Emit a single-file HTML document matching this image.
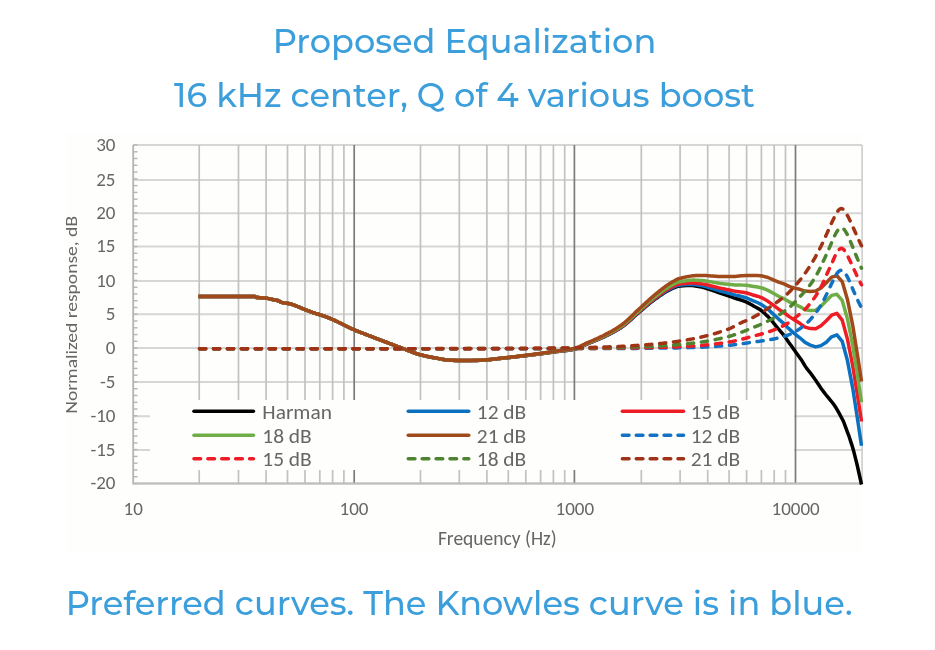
<!DOCTYPE html>
<html><head><meta charset="utf-8"><title>Proposed Equalization</title>
<style>
html,body{margin:0;padding:0;background:#ffffff;}
body{width:935px;height:650px;position:relative;overflow:hidden;}
.h{position:absolute;width:935px;text-align:center;font-family:"Montserrat","DejaVu Sans","Liberation Sans",sans-serif;font-weight:500;font-size:33.6px;color:#3c9fdb;white-space:nowrap;}
.t{font-family:"Carlito","Liberation Sans",sans-serif;font-size:19px;fill:#666666;}
.lg{font-size:20.5px;}
.yl{font-size:19px;}
.xl{font-size:19px;}
.ft{font-size:19.5px;}
.yt{font-size:17px;}
</style></head><body>
<div class="h" style="left:-3px;top:20.0px;">Proposed Equalization</div>
<div class="h" style="left:-3px;top:73.7px;">16 kHz center, Q of 4 various boost</div>
<svg width="935" height="650" viewBox="0 0 935 650" style="position:absolute;left:0;top:0">
<rect x="66" y="133" width="796" height="419" fill="#fefefc"/>
<line x1="133" y1="145.0" x2="862" y2="145.0" stroke="#d6d6d6" stroke-width="2"/>
<line x1="133" y1="180.0" x2="862" y2="180.0" stroke="#d6d6d6" stroke-width="2"/>
<line x1="133" y1="213.3" x2="862" y2="213.3" stroke="#d6d6d6" stroke-width="2"/>
<line x1="133" y1="246.6" x2="862" y2="246.6" stroke="#d6d6d6" stroke-width="2"/>
<line x1="133" y1="281.0" x2="862" y2="281.0" stroke="#d6d6d6" stroke-width="2"/>
<line x1="133" y1="314.2" x2="862" y2="314.2" stroke="#d6d6d6" stroke-width="2"/>
<line x1="133" y1="348.1" x2="862" y2="348.1" stroke="#d6d6d6" stroke-width="2"/>
<line x1="133" y1="381.9" x2="862" y2="381.9" stroke="#d6d6d6" stroke-width="2"/>
<line x1="133" y1="416.2" x2="862" y2="416.2" stroke="#d6d6d6" stroke-width="2"/>
<line x1="133" y1="450.0" x2="862" y2="450.0" stroke="#d6d6d6" stroke-width="2"/>
<line x1="133" y1="483.6" x2="862" y2="483.6" stroke="#d6d6d6" stroke-width="2"/>
<line x1="199.2" y1="145.0" x2="199.2" y2="483.5" stroke="#c2c2c2" stroke-width="1.7"/>
<line x1="238.5" y1="145.0" x2="238.5" y2="483.5" stroke="#c2c2c2" stroke-width="1.7"/>
<line x1="266.1" y1="145.0" x2="266.1" y2="483.5" stroke="#c2c2c2" stroke-width="1.7"/>
<line x1="287.5" y1="145.0" x2="287.5" y2="483.5" stroke="#c2c2c2" stroke-width="1.7"/>
<line x1="305.0" y1="145.0" x2="305.0" y2="483.5" stroke="#c2c2c2" stroke-width="1.7"/>
<line x1="319.8" y1="145.0" x2="319.8" y2="483.5" stroke="#c2c2c2" stroke-width="1.7"/>
<line x1="332.6" y1="145.0" x2="332.6" y2="483.5" stroke="#c2c2c2" stroke-width="1.7"/>
<line x1="343.9" y1="145.0" x2="343.9" y2="483.5" stroke="#c2c2c2" stroke-width="1.7"/>
<line x1="354.2" y1="145.0" x2="354.2" y2="483.5" stroke="#7c7c7c" stroke-width="1.7"/>
<line x1="420.5" y1="145.0" x2="420.5" y2="483.5" stroke="#c2c2c2" stroke-width="1.7"/>
<line x1="459.3" y1="145.0" x2="459.3" y2="483.5" stroke="#c2c2c2" stroke-width="1.7"/>
<line x1="486.9" y1="145.0" x2="486.9" y2="483.5" stroke="#c2c2c2" stroke-width="1.7"/>
<line x1="508.3" y1="145.0" x2="508.3" y2="483.5" stroke="#c2c2c2" stroke-width="1.7"/>
<line x1="525.8" y1="145.0" x2="525.8" y2="483.5" stroke="#c2c2c2" stroke-width="1.7"/>
<line x1="540.6" y1="145.0" x2="540.6" y2="483.5" stroke="#c2c2c2" stroke-width="1.7"/>
<line x1="553.4" y1="145.0" x2="553.4" y2="483.5" stroke="#c2c2c2" stroke-width="1.7"/>
<line x1="564.7" y1="145.0" x2="564.7" y2="483.5" stroke="#c2c2c2" stroke-width="1.7"/>
<line x1="574.4" y1="145.0" x2="574.4" y2="483.5" stroke="#7c7c7c" stroke-width="1.7"/>
<line x1="641.3" y1="145.0" x2="641.3" y2="483.5" stroke="#c2c2c2" stroke-width="1.7"/>
<line x1="680.1" y1="145.0" x2="680.1" y2="483.5" stroke="#c2c2c2" stroke-width="1.7"/>
<line x1="707.7" y1="145.0" x2="707.7" y2="483.5" stroke="#c2c2c2" stroke-width="1.7"/>
<line x1="729.1" y1="145.0" x2="729.1" y2="483.5" stroke="#c2c2c2" stroke-width="1.7"/>
<line x1="746.6" y1="145.0" x2="746.6" y2="483.5" stroke="#c2c2c2" stroke-width="1.7"/>
<line x1="761.4" y1="145.0" x2="761.4" y2="483.5" stroke="#c2c2c2" stroke-width="1.7"/>
<line x1="774.2" y1="145.0" x2="774.2" y2="483.5" stroke="#c2c2c2" stroke-width="1.7"/>
<line x1="785.5" y1="145.0" x2="785.5" y2="483.5" stroke="#c2c2c2" stroke-width="1.7"/>
<line x1="795.5" y1="145.0" x2="795.5" y2="483.5" stroke="#7c7c7c" stroke-width="1.7"/>
<line x1="862.1" y1="145.0" x2="862.1" y2="483.5" stroke="#d0d0d0" stroke-width="1.7"/>
<line x1="133.2" y1="145.0" x2="133.2" y2="483.5" stroke="#b4b4b4" stroke-width="1.8"/>
<line x1="133.2" y1="145.0" x2="137.5" y2="145.0" stroke="#b4b4b4" stroke-width="1.4"/>
<line x1="133.2" y1="151.8" x2="137.5" y2="151.8" stroke="#b4b4b4" stroke-width="1.4"/>
<line x1="133.2" y1="158.5" x2="137.5" y2="158.5" stroke="#b4b4b4" stroke-width="1.4"/>
<line x1="133.2" y1="165.3" x2="137.5" y2="165.3" stroke="#b4b4b4" stroke-width="1.4"/>
<line x1="133.2" y1="172.1" x2="137.5" y2="172.1" stroke="#b4b4b4" stroke-width="1.4"/>
<line x1="133.2" y1="178.8" x2="137.5" y2="178.8" stroke="#b4b4b4" stroke-width="1.4"/>
<line x1="133.2" y1="185.6" x2="137.5" y2="185.6" stroke="#b4b4b4" stroke-width="1.4"/>
<line x1="133.2" y1="192.4" x2="137.5" y2="192.4" stroke="#b4b4b4" stroke-width="1.4"/>
<line x1="133.2" y1="199.2" x2="137.5" y2="199.2" stroke="#b4b4b4" stroke-width="1.4"/>
<line x1="133.2" y1="205.9" x2="137.5" y2="205.9" stroke="#b4b4b4" stroke-width="1.4"/>
<line x1="133.2" y1="212.7" x2="137.5" y2="212.7" stroke="#b4b4b4" stroke-width="1.4"/>
<line x1="133.2" y1="219.5" x2="137.5" y2="219.5" stroke="#b4b4b4" stroke-width="1.4"/>
<line x1="133.2" y1="226.2" x2="137.5" y2="226.2" stroke="#b4b4b4" stroke-width="1.4"/>
<line x1="133.2" y1="233.0" x2="137.5" y2="233.0" stroke="#b4b4b4" stroke-width="1.4"/>
<line x1="133.2" y1="239.8" x2="137.5" y2="239.8" stroke="#b4b4b4" stroke-width="1.4"/>
<line x1="133.2" y1="246.6" x2="137.5" y2="246.6" stroke="#b4b4b4" stroke-width="1.4"/>
<line x1="133.2" y1="253.3" x2="137.5" y2="253.3" stroke="#b4b4b4" stroke-width="1.4"/>
<line x1="133.2" y1="260.1" x2="137.5" y2="260.1" stroke="#b4b4b4" stroke-width="1.4"/>
<line x1="133.2" y1="266.9" x2="137.5" y2="266.9" stroke="#b4b4b4" stroke-width="1.4"/>
<line x1="133.2" y1="273.6" x2="137.5" y2="273.6" stroke="#b4b4b4" stroke-width="1.4"/>
<line x1="133.2" y1="280.4" x2="137.5" y2="280.4" stroke="#b4b4b4" stroke-width="1.4"/>
<line x1="133.2" y1="287.2" x2="137.5" y2="287.2" stroke="#b4b4b4" stroke-width="1.4"/>
<line x1="133.2" y1="293.9" x2="137.5" y2="293.9" stroke="#b4b4b4" stroke-width="1.4"/>
<line x1="133.2" y1="300.7" x2="137.5" y2="300.7" stroke="#b4b4b4" stroke-width="1.4"/>
<line x1="133.2" y1="307.5" x2="137.5" y2="307.5" stroke="#b4b4b4" stroke-width="1.4"/>
<line x1="133.2" y1="314.2" x2="137.5" y2="314.2" stroke="#b4b4b4" stroke-width="1.4"/>
<line x1="133.2" y1="321.0" x2="137.5" y2="321.0" stroke="#b4b4b4" stroke-width="1.4"/>
<line x1="133.2" y1="327.8" x2="137.5" y2="327.8" stroke="#b4b4b4" stroke-width="1.4"/>
<line x1="133.2" y1="334.6" x2="137.5" y2="334.6" stroke="#b4b4b4" stroke-width="1.4"/>
<line x1="133.2" y1="341.3" x2="137.5" y2="341.3" stroke="#b4b4b4" stroke-width="1.4"/>
<line x1="133.2" y1="348.1" x2="137.5" y2="348.1" stroke="#b4b4b4" stroke-width="1.4"/>
<line x1="133.2" y1="354.9" x2="137.5" y2="354.9" stroke="#b4b4b4" stroke-width="1.4"/>
<line x1="133.2" y1="361.6" x2="137.5" y2="361.6" stroke="#b4b4b4" stroke-width="1.4"/>
<line x1="133.2" y1="368.4" x2="137.5" y2="368.4" stroke="#b4b4b4" stroke-width="1.4"/>
<line x1="133.2" y1="375.2" x2="137.5" y2="375.2" stroke="#b4b4b4" stroke-width="1.4"/>
<line x1="133.2" y1="381.9" x2="137.5" y2="381.9" stroke="#b4b4b4" stroke-width="1.4"/>
<line x1="133.2" y1="388.7" x2="137.5" y2="388.7" stroke="#b4b4b4" stroke-width="1.4"/>
<line x1="133.2" y1="395.5" x2="137.5" y2="395.5" stroke="#b4b4b4" stroke-width="1.4"/>
<line x1="133.2" y1="402.3" x2="137.5" y2="402.3" stroke="#b4b4b4" stroke-width="1.4"/>
<line x1="133.2" y1="409.0" x2="137.5" y2="409.0" stroke="#b4b4b4" stroke-width="1.4"/>
<line x1="133.2" y1="415.8" x2="137.5" y2="415.8" stroke="#b4b4b4" stroke-width="1.4"/>
<line x1="133.2" y1="422.6" x2="137.5" y2="422.6" stroke="#b4b4b4" stroke-width="1.4"/>
<line x1="133.2" y1="429.3" x2="137.5" y2="429.3" stroke="#b4b4b4" stroke-width="1.4"/>
<line x1="133.2" y1="436.1" x2="137.5" y2="436.1" stroke="#b4b4b4" stroke-width="1.4"/>
<line x1="133.2" y1="442.9" x2="137.5" y2="442.9" stroke="#b4b4b4" stroke-width="1.4"/>
<line x1="133.2" y1="449.6" x2="137.5" y2="449.6" stroke="#b4b4b4" stroke-width="1.4"/>
<line x1="133.2" y1="456.4" x2="137.5" y2="456.4" stroke="#b4b4b4" stroke-width="1.4"/>
<line x1="133.2" y1="463.2" x2="137.5" y2="463.2" stroke="#b4b4b4" stroke-width="1.4"/>
<line x1="133.2" y1="470.0" x2="137.5" y2="470.0" stroke="#b4b4b4" stroke-width="1.4"/>
<line x1="133.2" y1="476.7" x2="137.5" y2="476.7" stroke="#b4b4b4" stroke-width="1.4"/>
<line x1="133.2" y1="483.5" x2="137.5" y2="483.5" stroke="#b4b4b4" stroke-width="1.4"/>
<line x1="132.3" y1="483.5" x2="862" y2="483.5" stroke="#bdbdbd" stroke-width="1.8"/>
<rect x="150" y="400" width="644" height="70" fill="#fefefc"/>
<path d="M198.5,296.6 199.5,296.6 200.5,296.6 201.5,296.6 202.5,296.6 203.5,296.6 204.5,296.6 205.5,296.6 206.5,296.6 207.5,296.6 208.5,296.6 209.5,296.6 210.5,296.5 211.5,296.5 212.5,296.5 213.5,296.5 214.5,296.5 215.5,296.5 216.5,296.5 217.5,296.5 218.5,296.5 219.5,296.5 220.5,296.5 221.5,296.5 222.5,296.5 223.5,296.5 224.5,296.5 225.5,296.5 226.5,296.5 227.5,296.5 228.5,296.5 229.5,296.5 230.5,296.5 231.5,296.5 232.5,296.5 233.5,296.5 234.5,296.5 235.5,296.5 236.5,296.5 237.5,296.5 238.5,296.5 239.5,296.5 240.5,296.5 241.5,296.5 242.5,296.5 243.5,296.5 244.5,296.5 245.5,296.5 246.5,296.5 247.5,296.5 248.5,296.5 249.5,296.5 250.5,296.5 251.5,296.5 252.5,296.5 253.5,296.5 254.5,296.5 255.5,296.8 256.5,297.4 257.5,297.5 258.5,297.6 259.5,297.7 260.5,297.8 261.5,297.9 262.5,297.9 263.5,298.0 264.5,298.0 265.5,298.1 266.5,298.2 267.5,298.4 268.5,298.6 269.5,298.8 270.5,299.1 271.5,299.3 272.5,299.5 273.5,299.7 274.5,299.9 275.5,300.1 276.5,300.3 277.5,300.5 278.5,300.8 279.5,301.3 280.5,301.9 281.5,302.4 282.5,302.6 283.5,302.8 284.5,303.0 285.5,303.1 286.5,303.2 287.5,303.4 288.5,303.5 289.5,303.7 290.5,304.0 291.5,304.2 292.5,304.6 293.5,304.9 294.5,305.3 295.5,305.7 296.5,306.1 297.5,306.5 298.5,306.9 299.5,307.3 300.5,307.7 301.5,308.2 302.5,308.6 303.5,309.0 304.5,309.4 305.5,309.8 306.5,310.2 307.5,310.6 308.5,310.9 309.5,311.3 310.5,311.7 311.5,312.0 312.5,312.4 313.5,312.7 314.5,313.0 315.5,313.4 316.5,313.7 317.5,314.0 318.5,314.3 319.5,314.6 320.5,314.9 321.5,315.3 322.5,315.6 323.5,315.9 324.5,316.3 325.5,316.6 326.5,317.0 327.5,317.4 328.5,317.8 329.5,318.2 330.5,318.6 331.5,319.1 332.5,319.5 333.5,320.0 334.5,320.4 335.5,320.9 336.5,321.3 337.5,321.8 338.5,322.3 339.5,322.7 340.5,323.2 341.5,323.7 342.5,324.2 343.5,324.7 344.5,325.2 345.5,325.7 346.5,326.2 347.5,326.7 348.5,327.2 349.5,327.7 350.5,328.2 351.5,328.7 352.5,329.1 353.5,329.5 354.5,329.9 355.5,330.4 356.5,330.8 357.5,331.2 358.5,331.6 359.5,332.0 360.5,332.4 361.5,332.7 362.5,333.1 363.5,333.5 364.5,333.9 365.5,334.3 366.5,334.7 367.5,335.1 368.5,335.5 369.5,335.9 370.5,336.2 371.5,336.6 372.5,337.0 373.5,337.4 374.5,337.8 375.5,338.2 376.5,338.5 377.5,338.9 378.5,339.3 379.5,339.7 380.5,340.1 381.5,340.4 382.5,340.8 383.5,341.2 384.5,341.6 385.5,342.0 386.5,342.3 387.5,342.7 388.5,343.1 389.5,343.5 390.5,343.9 391.5,344.2 392.5,344.6 393.5,345.0 394.5,345.4 395.5,345.8 396.5,346.1 397.5,346.5 398.5,346.9 399.5,347.3 400.5,347.6 401.5,348.0 402.5,348.4 403.5,348.8 404.5,349.1 405.5,349.5 406.5,349.9 407.5,350.3 408.5,350.7 409.5,351.1 410.5,351.5 411.5,351.9 412.5,352.3 413.5,352.6 414.5,353.0 415.5,353.3 416.5,353.7 417.5,354.0 418.5,354.3 419.5,354.6 420.5,354.8 421.5,355.1 422.5,355.3 423.5,355.6 424.5,355.8 425.5,356.0 426.5,356.3 427.5,356.5 428.5,356.7 429.5,356.9 430.5,357.1 431.5,357.3 432.5,357.5 433.5,357.7 434.5,357.8 435.5,358.0 436.5,358.2 437.5,358.4 438.5,358.6 439.5,358.8 440.5,359.0 441.5,359.2 442.5,359.4 443.5,359.5 444.5,359.7 445.5,359.9 446.5,360.0 447.5,360.1 448.5,360.2 449.5,360.2 450.5,360.3 451.5,360.3 452.5,360.3 453.5,360.4 454.5,360.4 455.5,360.4 456.5,360.4 457.5,360.4 458.5,360.4 459.5,360.5 460.5,360.5 461.5,360.5 462.5,360.5 463.5,360.5 464.5,360.5 465.5,360.5 466.5,360.5 467.5,360.5 468.5,360.5 469.5,360.5 470.5,360.5 471.5,360.5 472.5,360.4 473.5,360.4 474.5,360.4 475.5,360.4 476.5,360.4 477.5,360.4 478.5,360.4 479.5,360.3 480.5,360.3 481.5,360.3 482.5,360.2 483.5,360.2 484.5,360.1 485.5,360.0 486.5,360.0 487.5,359.9 488.5,359.8 489.5,359.7 490.5,359.6 491.5,359.4 492.5,359.3 493.5,359.2 494.5,359.1 495.5,359.0 496.5,358.9 497.5,358.8 498.5,358.6 499.5,358.5 500.5,358.4 501.5,358.3 502.5,358.2 503.5,358.1 504.5,358.0 505.5,357.9 506.5,357.8 507.5,357.7 508.5,357.6 509.5,357.5 510.5,357.4 511.5,357.3 512.5,357.2 513.5,357.1 514.5,356.9 515.5,356.8 516.5,356.7 517.5,356.6 518.5,356.5 519.5,356.4 520.5,356.2 521.5,356.1 522.5,356.0 523.5,355.9 524.5,355.8 525.5,355.7 526.5,355.5 527.5,355.4 528.5,355.3 529.5,355.2 530.5,355.1 531.5,354.9 532.5,354.8 533.5,354.7 534.5,354.6 535.5,354.4 536.5,354.3 537.5,354.2 538.5,354.1 539.5,353.9 540.5,353.8 541.5,353.7 542.5,353.5 543.5,353.4 544.5,353.3 545.5,353.1 546.5,353.0 547.5,352.9 548.5,352.7 549.5,352.6 550.5,352.5 551.5,352.3 552.5,352.2 553.5,352.1 554.5,351.9 555.5,351.8 556.5,351.6 557.5,351.5 558.5,351.4 559.5,351.3 560.5,351.2 561.5,351.0 562.5,350.9 563.5,350.8 564.5,350.7 565.5,350.6 566.5,350.5 567.5,350.4 568.5,350.2 569.5,350.1 570.5,349.9 571.5,349.8 572.5,349.6 573.5,349.4 574.5,349.2 575.5,348.9 576.5,348.6 577.5,348.3 578.5,347.9 579.5,347.5 580.5,347.0 581.5,346.6 582.5,346.1 583.5,345.6 584.5,345.2 585.5,344.7 586.5,344.3 587.5,343.9 588.5,343.5 589.5,343.0 590.5,342.6 591.5,342.2 592.5,341.8 593.5,341.4 594.5,341.0 595.5,340.6 596.5,340.2 597.5,339.8 598.5,339.3 599.5,338.9 600.5,338.5 601.5,338.0 602.5,337.6 603.5,337.1 604.5,336.6 605.5,336.1 606.5,335.7 607.5,335.2 608.5,334.7 609.5,334.2 610.5,333.7 611.5,333.2 612.5,332.6 613.5,332.1 614.5,331.5 615.5,331.0 616.5,330.4 617.5,329.8 618.5,329.2 619.5,328.6 620.5,328.0 621.5,327.3 622.5,326.6 623.5,325.9 624.5,325.1 625.5,324.3 626.5,323.5 627.5,322.6 628.5,321.8 629.5,320.9 630.5,320.0 631.5,319.1 632.5,318.2 633.5,317.2 634.5,316.3 635.5,315.4 636.5,314.6 637.5,313.7 638.5,312.9 639.5,312.0 640.5,311.2 641.5,310.3 642.5,309.5 643.5,308.6 644.5,307.7 645.5,306.9 646.5,306.0 647.5,305.2 648.5,304.4 649.5,303.5 650.5,302.7 651.5,301.9 652.5,301.1 653.5,300.4 654.5,299.6 655.5,298.9 656.5,298.2 657.5,297.5 658.5,296.8 659.5,296.1 660.5,295.4 661.5,294.7 662.5,294.0 663.5,293.3 664.5,292.7 665.5,292.1 666.5,291.5 667.5,290.9 668.5,290.4 669.5,289.9 670.5,289.4 671.5,288.9 672.5,288.5 673.5,288.0 674.5,287.6 675.5,287.1 676.5,286.8 677.5,286.4 678.5,286.2 679.5,286.0 680.5,285.9 681.5,285.9 682.5,285.8 683.5,285.7 684.5,285.7 685.5,285.6 686.5,285.6 687.5,285.5 688.5,285.5 689.5,285.5 690.5,285.5 691.5,285.5 692.5,285.6 693.5,285.7 694.5,285.8 695.5,286.0 696.5,286.2 697.5,286.3 698.5,286.5 699.5,286.7 700.5,286.9 701.5,287.1 702.5,287.3 703.5,287.6 704.5,287.8 705.5,288.1 706.5,288.5 707.5,288.8 708.5,289.1 709.5,289.4 710.5,289.7 711.5,290.0 712.5,290.4 713.5,290.7 714.5,291.1 715.5,291.4 716.5,291.8 717.5,292.2 718.5,292.5 719.5,292.9 720.5,293.2 721.5,293.5 722.5,293.9 723.5,294.2 724.5,294.5 725.5,294.9 726.5,295.2 727.5,295.5 728.5,295.9 729.5,296.2 730.5,296.6 731.5,296.9 732.5,297.3 733.5,297.7 734.5,298.0 735.5,298.4 736.5,298.7 737.5,299.0 738.5,299.3 739.5,299.6 740.5,299.9 741.5,300.2 742.5,300.6 743.5,300.9 744.5,301.3 745.5,301.7 746.5,302.1 747.5,302.6 748.5,303.1 749.5,303.6 750.5,304.2 751.5,304.7 752.5,305.3 753.5,305.9 754.5,306.5 755.5,307.0 756.5,307.6 757.5,308.1 758.5,308.7 759.5,309.3 760.5,310.0 761.5,310.7 762.5,311.5 763.5,312.4 764.5,313.3 765.5,314.2 766.5,315.2 767.5,316.1 768.5,317.1 769.5,318.2 770.5,319.3 771.5,320.5 772.5,321.7 773.5,322.9 774.5,324.2 775.5,325.4 776.5,326.6 777.5,327.8 778.5,329.0 779.5,330.2 780.5,331.4 781.5,332.5 782.5,333.7 783.5,334.9 784.5,336.2 785.5,337.6 786.5,339.1 787.5,340.5 788.5,342.0 789.5,343.4 790.5,344.7 791.5,346.1 792.5,347.5 793.5,348.9 794.5,350.3 795.5,351.8 796.5,353.2 797.5,354.6 798.5,356.0 799.5,357.3 800.5,358.7 801.5,360.1 802.5,361.6 803.5,363.3 804.5,365.0 805.5,366.6 806.5,368.1 807.5,369.4 808.5,370.6 809.5,371.8 810.5,373.0 811.5,374.4 812.5,375.8 813.5,377.2 814.5,378.6 815.5,380.1 816.5,381.5 817.5,383.0 818.5,384.5 819.5,386.0 820.5,387.5 821.5,388.9 822.5,390.3 823.5,391.6 824.5,392.9 825.5,394.2 826.5,395.5 827.5,396.7 828.5,397.9 829.5,399.1 830.5,400.3 831.5,401.5 832.5,402.8 833.5,404.1 834.5,405.5 835.5,407.0 836.5,408.6 837.5,410.3 838.5,412.1 839.5,413.9 840.5,415.8 841.5,417.7 842.5,419.5 843.5,421.5 844.5,424.2 845.5,426.9 846.5,429.6 847.5,432.3 848.5,434.9 849.5,437.8 850.5,440.9 851.5,443.9 852.5,447.0 853.5,450.5 854.5,454.4 855.5,458.4 856.5,462.3 857.5,466.5 858.5,471.0 859.5,475.5 860.5,480.0 861.5,484.5" fill="none" stroke="#000000" stroke-width="3.5" stroke-linejoin="round"/>
<path d="M198.5,296.6 199.5,296.6 200.5,296.6 201.5,296.6 202.5,296.6 203.5,296.6 204.5,296.6 205.5,296.6 206.5,296.6 207.5,296.6 208.5,296.6 209.5,296.6 210.5,296.5 211.5,296.5 212.5,296.5 213.5,296.5 214.5,296.5 215.5,296.5 216.5,296.5 217.5,296.5 218.5,296.5 219.5,296.5 220.5,296.5 221.5,296.5 222.5,296.5 223.5,296.5 224.5,296.5 225.5,296.5 226.5,296.5 227.5,296.5 228.5,296.5 229.5,296.5 230.5,296.5 231.5,296.5 232.5,296.5 233.5,296.5 234.5,296.5 235.5,296.5 236.5,296.5 237.5,296.5 238.5,296.5 239.5,296.5 240.5,296.5 241.5,296.5 242.5,296.5 243.5,296.5 244.5,296.5 245.5,296.5 246.5,296.5 247.5,296.5 248.5,296.5 249.5,296.5 250.5,296.5 251.5,296.5 252.5,296.5 253.5,296.5 254.5,296.5 255.5,296.8 256.5,297.4 257.5,297.5 258.5,297.6 259.5,297.7 260.5,297.8 261.5,297.9 262.5,297.9 263.5,298.0 264.5,298.0 265.5,298.1 266.5,298.2 267.5,298.4 268.5,298.6 269.5,298.8 270.5,299.1 271.5,299.3 272.5,299.5 273.5,299.7 274.5,299.9 275.5,300.1 276.5,300.3 277.5,300.5 278.5,300.8 279.5,301.3 280.5,301.9 281.5,302.4 282.5,302.6 283.5,302.8 284.5,303.0 285.5,303.1 286.5,303.2 287.5,303.4 288.5,303.5 289.5,303.7 290.5,304.0 291.5,304.2 292.5,304.6 293.5,304.9 294.5,305.3 295.5,305.7 296.5,306.1 297.5,306.5 298.5,306.9 299.5,307.3 300.5,307.7 301.5,308.2 302.5,308.6 303.5,309.0 304.5,309.4 305.5,309.8 306.5,310.2 307.5,310.6 308.5,310.9 309.5,311.3 310.5,311.7 311.5,312.0 312.5,312.4 313.5,312.7 314.5,313.0 315.5,313.4 316.5,313.7 317.5,314.0 318.5,314.3 319.5,314.6 320.5,314.9 321.5,315.3 322.5,315.6 323.5,315.9 324.5,316.3 325.5,316.6 326.5,317.0 327.5,317.4 328.5,317.8 329.5,318.2 330.5,318.6 331.5,319.1 332.5,319.5 333.5,320.0 334.5,320.4 335.5,320.9 336.5,321.3 337.5,321.8 338.5,322.3 339.5,322.7 340.5,323.2 341.5,323.7 342.5,324.2 343.5,324.7 344.5,325.2 345.5,325.7 346.5,326.2 347.5,326.7 348.5,327.2 349.5,327.7 350.5,328.2 351.5,328.7 352.5,329.1 353.5,329.5 354.5,329.9 355.5,330.4 356.5,330.8 357.5,331.2 358.5,331.6 359.5,332.0 360.5,332.4 361.5,332.7 362.5,333.1 363.5,333.5 364.5,333.9 365.5,334.3 366.5,334.7 367.5,335.1 368.5,335.5 369.5,335.9 370.5,336.2 371.5,336.6 372.5,337.0 373.5,337.4 374.5,337.8 375.5,338.2 376.5,338.5 377.5,338.9 378.5,339.3 379.5,339.7 380.5,340.1 381.5,340.4 382.5,340.8 383.5,341.2 384.5,341.6 385.5,342.0 386.5,342.3 387.5,342.7 388.5,343.1 389.5,343.5 390.5,343.9 391.5,344.2 392.5,344.6 393.5,345.0 394.5,345.4 395.5,345.8 396.5,346.1 397.5,346.5 398.5,346.9 399.5,347.3 400.5,347.6 401.5,348.0 402.5,348.4 403.5,348.8 404.5,349.1 405.5,349.5 406.5,349.9 407.5,350.3 408.5,350.7 409.5,351.1 410.5,351.5 411.5,351.9 412.5,352.3 413.5,352.6 414.5,353.0 415.5,353.3 416.5,353.7 417.5,354.0 418.5,354.3 419.5,354.6 420.5,354.8 421.5,355.1 422.5,355.3 423.5,355.6 424.5,355.8 425.5,356.0 426.5,356.3 427.5,356.5 428.5,356.7 429.5,356.9 430.5,357.1 431.5,357.3 432.5,357.5 433.5,357.7 434.5,357.8 435.5,358.0 436.5,358.2 437.5,358.4 438.5,358.6 439.5,358.8 440.5,359.0 441.5,359.2 442.5,359.4 443.5,359.5 444.5,359.7 445.5,359.9 446.5,360.0 447.5,360.1 448.5,360.2 449.5,360.2 450.5,360.3 451.5,360.3 452.5,360.3 453.5,360.3 454.5,360.4 455.5,360.4 456.5,360.4 457.5,360.4 458.5,360.4 459.5,360.5 460.5,360.5 461.5,360.5 462.5,360.5 463.5,360.5 464.5,360.5 465.5,360.5 466.5,360.5 467.5,360.5 468.5,360.5 469.5,360.5 470.5,360.5 471.5,360.4 472.5,360.4 473.5,360.4 474.5,360.4 475.5,360.4 476.5,360.4 477.5,360.4 478.5,360.3 479.5,360.3 480.5,360.3 481.5,360.3 482.5,360.2 483.5,360.2 484.5,360.1 485.5,360.0 486.5,359.9 487.5,359.9 488.5,359.8 489.5,359.7 490.5,359.5 491.5,359.4 492.5,359.3 493.5,359.2 494.5,359.1 495.5,359.0 496.5,358.9 497.5,358.7 498.5,358.6 499.5,358.5 500.5,358.4 501.5,358.3 502.5,358.2 503.5,358.1 504.5,358.0 505.5,357.9 506.5,357.8 507.5,357.7 508.5,357.6 509.5,357.5 510.5,357.4 511.5,357.2 512.5,357.1 513.5,357.0 514.5,356.9 515.5,356.8 516.5,356.7 517.5,356.6 518.5,356.5 519.5,356.3 520.5,356.2 521.5,356.1 522.5,356.0 523.5,355.9 524.5,355.7 525.5,355.6 526.5,355.5 527.5,355.4 528.5,355.3 529.5,355.1 530.5,355.0 531.5,354.9 532.5,354.8 533.5,354.6 534.5,354.5 535.5,354.4 536.5,354.3 537.5,354.1 538.5,354.0 539.5,353.9 540.5,353.7 541.5,353.6 542.5,353.5 543.5,353.3 544.5,353.2 545.5,353.1 546.5,352.9 547.5,352.8 548.5,352.7 549.5,352.5 550.5,352.4 551.5,352.3 552.5,352.1 553.5,352.0 554.5,351.9 555.5,351.7 556.5,351.6 557.5,351.5 558.5,351.3 559.5,351.2 560.5,351.1 561.5,351.0 562.5,350.9 563.5,350.8 564.5,350.6 565.5,350.5 566.5,350.4 567.5,350.3 568.5,350.1 569.5,350.0 570.5,349.8 571.5,349.7 572.5,349.5 573.5,349.3 574.5,349.1 575.5,348.8 576.5,348.5 577.5,348.2 578.5,347.8 579.5,347.3 580.5,346.9 581.5,346.4 582.5,346.0 583.5,345.5 584.5,345.0 585.5,344.6 586.5,344.2 587.5,343.7 588.5,343.3 589.5,342.9 590.5,342.5 591.5,342.1 592.5,341.7 593.5,341.3 594.5,340.9 595.5,340.5 596.5,340.0 597.5,339.6 598.5,339.2 599.5,338.7 600.5,338.3 601.5,337.9 602.5,337.4 603.5,336.9 604.5,336.4 605.5,336.0 606.5,335.5 607.5,335.0 608.5,334.5 609.5,334.0 610.5,333.5 611.5,332.9 612.5,332.4 613.5,331.9 614.5,331.3 615.5,330.8 616.5,330.2 617.5,329.6 618.5,329.0 619.5,328.4 620.5,327.7 621.5,327.0 622.5,326.4 623.5,325.6 624.5,324.8 625.5,324.0 626.5,323.2 627.5,322.3 628.5,321.5 629.5,320.6 630.5,319.7 631.5,318.8 632.5,317.8 633.5,316.9 634.5,316.0 635.5,315.1 636.5,314.2 637.5,313.3 638.5,312.5 639.5,311.6 640.5,310.8 641.5,309.9 642.5,309.1 643.5,308.2 644.5,307.3 645.5,306.5 646.5,305.6 647.5,304.8 648.5,303.9 649.5,303.1 650.5,302.3 651.5,301.4 652.5,300.7 653.5,299.9 654.5,299.1 655.5,298.4 656.5,297.7 657.5,296.9 658.5,296.2 659.5,295.5 660.5,294.8 661.5,294.1 662.5,293.4 663.5,292.7 664.5,292.1 665.5,291.4 666.5,290.8 667.5,290.2 668.5,289.7 669.5,289.2 670.5,288.7 671.5,288.2 672.5,287.7 673.5,287.2 674.5,286.8 675.5,286.3 676.5,285.9 677.5,285.6 678.5,285.3 679.5,285.2 680.5,285.0 681.5,284.9 682.5,284.8 683.5,284.8 684.5,284.7 685.5,284.6 686.5,284.5 687.5,284.5 688.5,284.4 689.5,284.4 690.5,284.4 691.5,284.4 692.5,284.4 693.5,284.5 694.5,284.6 695.5,284.7 696.5,284.9 697.5,285.0 698.5,285.2 699.5,285.3 700.5,285.5 701.5,285.6 702.5,285.8 703.5,286.1 704.5,286.3 705.5,286.6 706.5,286.8 707.5,287.1 708.5,287.4 709.5,287.7 710.5,287.9 711.5,288.2 712.5,288.5 713.5,288.8 714.5,289.2 715.5,289.5 716.5,289.8 717.5,290.1 718.5,290.4 719.5,290.7 720.5,291.0 721.5,291.3 722.5,291.5 723.5,291.8 724.5,292.1 725.5,292.3 726.5,292.6 727.5,292.9 728.5,293.2 729.5,293.4 730.5,293.7 731.5,294.0 732.5,294.3 733.5,294.6 734.5,294.9 735.5,295.2 736.5,295.4 737.5,295.6 738.5,295.8 739.5,296.0 740.5,296.3 741.5,296.5 746.8,298.0 752.1,300.3 757.4,302.5 762.7,305.3 768.0,309.2 773.3,314.1 778.6,319.1 783.9,323.6 789.2,328.9 794.5,333.7 799.8,337.8 805.1,342.4 810.4,345.2 815.7,346.9 821.0,345.6 826.3,342.2 831.6,336.8 836.9,334.8 842.2,341.3 847.5,360.8 852.8,388.6 858.1,422.9 861.5,445.8" fill="none" stroke="#0a70c0" stroke-width="3.5" stroke-linejoin="round"/>
<path d="M198.5,296.6 199.5,296.6 200.5,296.6 201.5,296.6 202.5,296.6 203.5,296.6 204.5,296.6 205.5,296.6 206.5,296.6 207.5,296.6 208.5,296.6 209.5,296.6 210.5,296.5 211.5,296.5 212.5,296.5 213.5,296.5 214.5,296.5 215.5,296.5 216.5,296.5 217.5,296.5 218.5,296.5 219.5,296.5 220.5,296.5 221.5,296.5 222.5,296.5 223.5,296.5 224.5,296.5 225.5,296.5 226.5,296.5 227.5,296.5 228.5,296.5 229.5,296.5 230.5,296.5 231.5,296.5 232.5,296.5 233.5,296.5 234.5,296.5 235.5,296.5 236.5,296.5 237.5,296.5 238.5,296.5 239.5,296.5 240.5,296.5 241.5,296.5 242.5,296.5 243.5,296.5 244.5,296.5 245.5,296.5 246.5,296.5 247.5,296.5 248.5,296.5 249.5,296.5 250.5,296.5 251.5,296.5 252.5,296.5 253.5,296.5 254.5,296.5 255.5,296.8 256.5,297.4 257.5,297.5 258.5,297.6 259.5,297.7 260.5,297.8 261.5,297.9 262.5,297.9 263.5,298.0 264.5,298.0 265.5,298.1 266.5,298.2 267.5,298.4 268.5,298.6 269.5,298.8 270.5,299.1 271.5,299.3 272.5,299.5 273.5,299.7 274.5,299.9 275.5,300.1 276.5,300.3 277.5,300.5 278.5,300.8 279.5,301.3 280.5,301.9 281.5,302.4 282.5,302.6 283.5,302.8 284.5,303.0 285.5,303.1 286.5,303.2 287.5,303.4 288.5,303.5 289.5,303.7 290.5,304.0 291.5,304.2 292.5,304.6 293.5,304.9 294.5,305.3 295.5,305.7 296.5,306.1 297.5,306.5 298.5,306.9 299.5,307.3 300.5,307.7 301.5,308.2 302.5,308.6 303.5,309.0 304.5,309.4 305.5,309.8 306.5,310.2 307.5,310.6 308.5,310.9 309.5,311.3 310.5,311.7 311.5,312.0 312.5,312.4 313.5,312.7 314.5,313.0 315.5,313.4 316.5,313.7 317.5,314.0 318.5,314.3 319.5,314.6 320.5,314.9 321.5,315.3 322.5,315.6 323.5,315.9 324.5,316.3 325.5,316.6 326.5,317.0 327.5,317.4 328.5,317.8 329.5,318.2 330.5,318.6 331.5,319.1 332.5,319.5 333.5,319.9 334.5,320.4 335.5,320.9 336.5,321.3 337.5,321.8 338.5,322.3 339.5,322.7 340.5,323.2 341.5,323.7 342.5,324.2 343.5,324.7 344.5,325.2 345.5,325.7 346.5,326.2 347.5,326.7 348.5,327.2 349.5,327.7 350.5,328.2 351.5,328.7 352.5,329.1 353.5,329.5 354.5,329.9 355.5,330.4 356.5,330.8 357.5,331.2 358.5,331.6 359.5,332.0 360.5,332.4 361.5,332.7 362.5,333.1 363.5,333.5 364.5,333.9 365.5,334.3 366.5,334.7 367.5,335.1 368.5,335.5 369.5,335.9 370.5,336.2 371.5,336.6 372.5,337.0 373.5,337.4 374.5,337.8 375.5,338.2 376.5,338.5 377.5,338.9 378.5,339.3 379.5,339.7 380.5,340.1 381.5,340.4 382.5,340.8 383.5,341.2 384.5,341.6 385.5,342.0 386.5,342.3 387.5,342.7 388.5,343.1 389.5,343.5 390.5,343.9 391.5,344.2 392.5,344.6 393.5,345.0 394.5,345.4 395.5,345.8 396.5,346.1 397.5,346.5 398.5,346.9 399.5,347.3 400.5,347.6 401.5,348.0 402.5,348.4 403.5,348.8 404.5,349.1 405.5,349.5 406.5,349.9 407.5,350.3 408.5,350.7 409.5,351.1 410.5,351.5 411.5,351.9 412.5,352.2 413.5,352.6 414.5,353.0 415.5,353.3 416.5,353.7 417.5,354.0 418.5,354.3 419.5,354.6 420.5,354.8 421.5,355.1 422.5,355.3 423.5,355.6 424.5,355.8 425.5,356.0 426.5,356.3 427.5,356.5 428.5,356.7 429.5,356.9 430.5,357.1 431.5,357.3 432.5,357.5 433.5,357.6 434.5,357.8 435.5,358.0 436.5,358.2 437.5,358.4 438.5,358.6 439.5,358.8 440.5,359.0 441.5,359.2 442.5,359.3 443.5,359.5 444.5,359.7 445.5,359.8 446.5,360.0 447.5,360.1 448.5,360.2 449.5,360.2 450.5,360.3 451.5,360.3 452.5,360.3 453.5,360.3 454.5,360.4 455.5,360.4 456.5,360.4 457.5,360.4 458.5,360.4 459.5,360.4 460.5,360.4 461.5,360.5 462.5,360.5 463.5,360.5 464.5,360.5 465.5,360.5 466.5,360.5 467.5,360.5 468.5,360.5 469.5,360.4 470.5,360.4 471.5,360.4 472.5,360.4 473.5,360.4 474.5,360.4 475.5,360.4 476.5,360.4 477.5,360.3 478.5,360.3 479.5,360.3 480.5,360.3 481.5,360.3 482.5,360.2 483.5,360.1 484.5,360.1 485.5,360.0 486.5,359.9 487.5,359.8 488.5,359.7 489.5,359.6 490.5,359.5 491.5,359.4 492.5,359.3 493.5,359.2 494.5,359.1 495.5,358.9 496.5,358.8 497.5,358.7 498.5,358.6 499.5,358.5 500.5,358.4 501.5,358.3 502.5,358.2 503.5,358.1 504.5,358.0 505.5,357.9 506.5,357.8 507.5,357.7 508.5,357.5 509.5,357.4 510.5,357.3 511.5,357.2 512.5,357.1 513.5,357.0 514.5,356.9 515.5,356.8 516.5,356.6 517.5,356.5 518.5,356.4 519.5,356.3 520.5,356.2 521.5,356.1 522.5,355.9 523.5,355.8 524.5,355.7 525.5,355.6 526.5,355.5 527.5,355.3 528.5,355.2 529.5,355.1 530.5,355.0 531.5,354.8 532.5,354.7 533.5,354.6 534.5,354.5 535.5,354.3 536.5,354.2 537.5,354.1 538.5,353.9 539.5,353.8 540.5,353.7 541.5,353.5 542.5,353.4 543.5,353.3 544.5,353.1 545.5,353.0 546.5,352.9 547.5,352.7 548.5,352.6 549.5,352.5 550.5,352.3 551.5,352.2 552.5,352.0 553.5,351.9 554.5,351.8 555.5,351.6 556.5,351.5 557.5,351.4 558.5,351.2 559.5,351.1 560.5,351.0 561.5,350.9 562.5,350.8 563.5,350.6 564.5,350.5 565.5,350.4 566.5,350.3 567.5,350.2 568.5,350.0 569.5,349.9 570.5,349.7 571.5,349.6 572.5,349.4 573.5,349.2 574.5,349.0 575.5,348.7 576.5,348.4 577.5,348.0 578.5,347.6 579.5,347.2 580.5,346.8 581.5,346.3 582.5,345.8 583.5,345.4 584.5,344.9 585.5,344.4 586.5,344.0 587.5,343.6 588.5,343.2 589.5,342.7 590.5,342.3 591.5,341.9 592.5,341.5 593.5,341.1 594.5,340.7 595.5,340.3 596.5,339.8 597.5,339.4 598.5,339.0 599.5,338.5 600.5,338.1 601.5,337.6 602.5,337.2 603.5,336.7 604.5,336.2 605.5,335.7 606.5,335.2 607.5,334.7 608.5,334.2 609.5,333.7 610.5,333.2 611.5,332.7 612.5,332.1 613.5,331.6 614.5,331.0 615.5,330.5 616.5,329.9 617.5,329.3 618.5,328.7 619.5,328.0 620.5,327.4 621.5,326.7 622.5,326.0 623.5,325.3 624.5,324.5 625.5,323.7 626.5,322.8 627.5,322.0 628.5,321.1 629.5,320.2 630.5,319.3 631.5,318.3 632.5,317.4 633.5,316.5 634.5,315.6 635.5,314.6 636.5,313.7 637.5,312.9 638.5,312.0 639.5,311.1 640.5,310.3 641.5,309.4 642.5,308.5 643.5,307.7 644.5,306.8 645.5,305.9 646.5,305.0 647.5,304.2 648.5,303.3 649.5,302.5 650.5,301.6 651.5,300.8 652.5,300.0 653.5,299.2 654.5,298.4 655.5,297.7 656.5,296.9 657.5,296.2 658.5,295.5 659.5,294.7 660.5,294.0 661.5,293.3 662.5,292.6 663.5,291.9 664.5,291.2 665.5,290.6 666.5,289.9 667.5,289.3 668.5,288.8 669.5,288.2 670.5,287.7 671.5,287.2 672.5,286.7 673.5,286.2 674.5,285.7 675.5,285.2 676.5,284.8 677.5,284.5 678.5,284.2 679.5,284.0 680.5,283.8 681.5,283.7 682.5,283.6 683.5,283.5 684.5,283.4 685.5,283.3 686.5,283.2 687.5,283.1 688.5,283.0 689.5,282.9 690.5,282.9 691.5,282.9 692.5,282.9 693.5,282.9 694.5,283.0 695.5,283.1 696.5,283.2 697.5,283.3 698.5,283.4 699.5,283.5 700.5,283.6 701.5,283.8 702.5,283.9 703.5,284.1 704.5,284.3 705.5,284.5 706.5,284.8 707.5,285.0 708.5,285.2 709.5,285.4 710.5,285.7 711.5,285.9 712.5,286.2 713.5,286.4 714.5,286.7 715.5,286.9 716.5,287.2 717.5,287.4 718.5,287.7 719.5,287.9 720.5,288.2 721.5,288.4 722.5,288.6 723.5,288.8 724.5,289.0 725.5,289.2 726.5,289.4 727.5,289.6 728.5,289.8 729.5,290.0 730.5,290.2 731.5,290.5 732.5,290.7 733.5,290.9 734.5,291.1 735.5,291.3 736.5,291.4 737.5,291.5 738.5,291.7 739.5,291.8 740.5,291.9 741.5,292.1 746.8,293.0 752.1,294.7 757.4,296.2 762.7,298.2 768.0,301.3 773.3,305.2 778.6,309.2 783.9,312.5 789.2,316.6 794.5,320.0 799.8,323.3 805.1,327.1 810.4,328.6 815.7,328.8 821.0,325.8 826.3,320.8 831.6,315.2 836.9,313.3 842.2,320.1 847.5,339.4 852.8,366.1 858.1,399.1 861.5,421.4" fill="none" stroke="#ee1c25" stroke-width="3.5" stroke-linejoin="round"/>
<path d="M198.5,296.6 199.5,296.6 200.5,296.6 201.5,296.6 202.5,296.6 203.5,296.6 204.5,296.6 205.5,296.6 206.5,296.6 207.5,296.6 208.5,296.6 209.5,296.6 210.5,296.5 211.5,296.5 212.5,296.5 213.5,296.5 214.5,296.5 215.5,296.5 216.5,296.5 217.5,296.5 218.5,296.5 219.5,296.5 220.5,296.5 221.5,296.5 222.5,296.5 223.5,296.5 224.5,296.5 225.5,296.5 226.5,296.5 227.5,296.5 228.5,296.5 229.5,296.5 230.5,296.5 231.5,296.5 232.5,296.5 233.5,296.5 234.5,296.5 235.5,296.5 236.5,296.5 237.5,296.5 238.5,296.5 239.5,296.5 240.5,296.5 241.5,296.5 242.5,296.5 243.5,296.5 244.5,296.5 245.5,296.5 246.5,296.5 247.5,296.5 248.5,296.5 249.5,296.5 250.5,296.5 251.5,296.5 252.5,296.5 253.5,296.5 254.5,296.5 255.5,296.8 256.5,297.4 257.5,297.5 258.5,297.6 259.5,297.7 260.5,297.8 261.5,297.9 262.5,297.9 263.5,298.0 264.5,298.0 265.5,298.1 266.5,298.2 267.5,298.4 268.5,298.6 269.5,298.8 270.5,299.1 271.5,299.3 272.5,299.5 273.5,299.7 274.5,299.9 275.5,300.1 276.5,300.3 277.5,300.5 278.5,300.8 279.5,301.3 280.5,301.9 281.5,302.4 282.5,302.6 283.5,302.8 284.5,303.0 285.5,303.1 286.5,303.2 287.5,303.4 288.5,303.5 289.5,303.7 290.5,303.9 291.5,304.2 292.5,304.6 293.5,304.9 294.5,305.3 295.5,305.7 296.5,306.1 297.5,306.5 298.5,306.9 299.5,307.3 300.5,307.7 301.5,308.2 302.5,308.6 303.5,309.0 304.5,309.4 305.5,309.8 306.5,310.2 307.5,310.6 308.5,310.9 309.5,311.3 310.5,311.6 311.5,312.0 312.5,312.4 313.5,312.7 314.5,313.0 315.5,313.4 316.5,313.7 317.5,314.0 318.5,314.3 319.5,314.6 320.5,314.9 321.5,315.3 322.5,315.6 323.5,315.9 324.5,316.3 325.5,316.6 326.5,317.0 327.5,317.4 328.5,317.8 329.5,318.2 330.5,318.6 331.5,319.1 332.5,319.5 333.5,319.9 334.5,320.4 335.5,320.9 336.5,321.3 337.5,321.8 338.5,322.3 339.5,322.7 340.5,323.2 341.5,323.7 342.5,324.2 343.5,324.7 344.5,325.2 345.5,325.7 346.5,326.2 347.5,326.7 348.5,327.2 349.5,327.7 350.5,328.2 351.5,328.6 352.5,329.1 353.5,329.5 354.5,329.9 355.5,330.4 356.5,330.8 357.5,331.2 358.5,331.6 359.5,332.0 360.5,332.3 361.5,332.7 362.5,333.1 363.5,333.5 364.5,333.9 365.5,334.3 366.5,334.7 367.5,335.1 368.5,335.5 369.5,335.9 370.5,336.2 371.5,336.6 372.5,337.0 373.5,337.4 374.5,337.8 375.5,338.1 376.5,338.5 377.5,338.9 378.5,339.3 379.5,339.7 380.5,340.1 381.5,340.4 382.5,340.8 383.5,341.2 384.5,341.6 385.5,342.0 386.5,342.3 387.5,342.7 388.5,343.1 389.5,343.5 390.5,343.9 391.5,344.2 392.5,344.6 393.5,345.0 394.5,345.4 395.5,345.8 396.5,346.1 397.5,346.5 398.5,346.9 399.5,347.3 400.5,347.6 401.5,348.0 402.5,348.4 403.5,348.8 404.5,349.1 405.5,349.5 406.5,349.9 407.5,350.3 408.5,350.7 409.5,351.1 410.5,351.5 411.5,351.9 412.5,352.2 413.5,352.6 414.5,353.0 415.5,353.3 416.5,353.7 417.5,354.0 418.5,354.3 419.5,354.6 420.5,354.8 421.5,355.1 422.5,355.3 423.5,355.6 424.5,355.8 425.5,356.0 426.5,356.2 427.5,356.5 428.5,356.7 429.5,356.9 430.5,357.1 431.5,357.3 432.5,357.4 433.5,357.6 434.5,357.8 435.5,358.0 436.5,358.2 437.5,358.4 438.5,358.6 439.5,358.8 440.5,358.9 441.5,359.1 442.5,359.3 443.5,359.5 444.5,359.7 445.5,359.8 446.5,360.0 447.5,360.1 448.5,360.2 449.5,360.2 450.5,360.2 451.5,360.3 452.5,360.3 453.5,360.3 454.5,360.3 455.5,360.4 456.5,360.4 457.5,360.4 458.5,360.4 459.5,360.4 460.5,360.4 461.5,360.4 462.5,360.4 463.5,360.4 464.5,360.4 465.5,360.4 466.5,360.4 467.5,360.4 468.5,360.4 469.5,360.4 470.5,360.4 471.5,360.4 472.5,360.4 473.5,360.4 474.5,360.4 475.5,360.3 476.5,360.3 477.5,360.3 478.5,360.3 479.5,360.3 480.5,360.2 481.5,360.2 482.5,360.2 483.5,360.1 484.5,360.0 485.5,360.0 486.5,359.9 487.5,359.8 488.5,359.7 489.5,359.6 490.5,359.5 491.5,359.4 492.5,359.2 493.5,359.1 494.5,359.0 495.5,358.9 496.5,358.8 497.5,358.7 498.5,358.6 499.5,358.4 500.5,358.3 501.5,358.2 502.5,358.1 503.5,358.0 504.5,357.9 505.5,357.8 506.5,357.7 507.5,357.6 508.5,357.5 509.5,357.4 510.5,357.3 511.5,357.1 512.5,357.0 513.5,356.9 514.5,356.8 515.5,356.7 516.5,356.6 517.5,356.5 518.5,356.3 519.5,356.2 520.5,356.1 521.5,356.0 522.5,355.9 523.5,355.7 524.5,355.6 525.5,355.5 526.5,355.4 527.5,355.2 528.5,355.1 529.5,355.0 530.5,354.9 531.5,354.7 532.5,354.6 533.5,354.5 534.5,354.4 535.5,354.2 536.5,354.1 537.5,354.0 538.5,353.8 539.5,353.7 540.5,353.6 541.5,353.4 542.5,353.3 543.5,353.1 544.5,353.0 545.5,352.9 546.5,352.7 547.5,352.6 548.5,352.5 549.5,352.3 550.5,352.2 551.5,352.0 552.5,351.9 553.5,351.7 554.5,351.6 555.5,351.5 556.5,351.3 557.5,351.2 558.5,351.1 559.5,350.9 560.5,350.8 561.5,350.7 562.5,350.6 563.5,350.5 564.5,350.3 565.5,350.2 566.5,350.1 567.5,349.9 568.5,349.8 569.5,349.7 570.5,349.5 571.5,349.3 572.5,349.1 573.5,348.9 574.5,348.7 575.5,348.4 576.5,348.1 577.5,347.8 578.5,347.4 579.5,346.9 580.5,346.5 581.5,346.0 582.5,345.5 583.5,345.1 584.5,344.6 585.5,344.1 586.5,343.7 587.5,343.2 588.5,342.8 589.5,342.4 590.5,342.0 591.5,341.6 592.5,341.1 593.5,340.7 594.5,340.3 595.5,339.9 596.5,339.4 597.5,339.0 598.5,338.6 599.5,338.1 600.5,337.7 601.5,337.2 602.5,336.7 603.5,336.2 604.5,335.7 605.5,335.2 606.5,334.7 607.5,334.2 608.5,333.7 609.5,333.2 610.5,332.7 611.5,332.1 612.5,331.6 613.5,331.0 614.5,330.5 615.5,329.9 616.5,329.3 617.5,328.7 618.5,328.0 619.5,327.4 620.5,326.7 621.5,326.0 622.5,325.3 623.5,324.6 624.5,323.8 625.5,322.9 626.5,322.1 627.5,321.2 628.5,320.3 629.5,319.4 630.5,318.5 631.5,317.5 632.5,316.6 633.5,315.6 634.5,314.7 635.5,313.8 636.5,312.9 637.5,311.9 638.5,311.1 639.5,310.2 640.5,309.3 641.5,308.4 642.5,307.5 643.5,306.6 644.5,305.7 645.5,304.8 646.5,303.9 647.5,303.0 648.5,302.2 649.5,301.3 650.5,300.4 651.5,299.6 652.5,298.8 653.5,297.9 654.5,297.1 655.5,296.4 656.5,295.6 657.5,294.8 658.5,294.1 659.5,293.3 660.5,292.5 661.5,291.8 662.5,291.1 663.5,290.3 664.5,289.6 665.5,289.0 666.5,288.3 667.5,287.7 668.5,287.0 669.5,286.5 670.5,285.9 671.5,285.4 672.5,284.8 673.5,284.3 674.5,283.8 675.5,283.3 676.5,282.8 677.5,282.4 678.5,282.1 679.5,281.8 680.5,281.7 681.5,281.5 682.5,281.3 683.5,281.2 684.5,281.0 685.5,280.9 686.5,280.7 687.5,280.6 688.5,280.5 689.5,280.3 690.5,280.2 691.5,280.2 692.5,280.1 693.5,280.1 694.5,280.1 695.5,280.2 696.5,280.2 697.5,280.2 698.5,280.3 699.5,280.4 700.5,280.4 701.5,280.5 702.5,280.6 703.5,280.7 704.5,280.8 705.5,281.0 706.5,281.1 707.5,281.3 708.5,281.4 709.5,281.6 710.5,281.7 711.5,281.9 712.5,282.1 713.5,282.3 714.5,282.4 715.5,282.6 716.5,282.8 717.5,283.0 718.5,283.1 719.5,283.3 720.5,283.4 721.5,283.5 722.5,283.7 723.5,283.8 724.5,283.9 725.5,284.0 726.5,284.1 727.5,284.2 728.5,284.3 729.5,284.4 730.5,284.5 731.5,284.6 732.5,284.7 733.5,284.8 734.5,284.9 735.5,285.0 736.5,285.0 737.5,285.0 738.5,285.0 739.5,285.0 740.5,285.0 741.5,285.1 746.8,285.3 752.1,286.2 757.4,287.0 762.7,288.2 768.0,290.4 773.3,293.3 778.6,296.3 783.9,298.7 789.2,301.8 794.5,304.2 799.8,306.6 805.1,309.7 810.4,310.6 815.7,310.2 821.0,306.3 826.3,300.8 831.6,295.4 836.9,294.3 842.2,300.4 847.5,319.0 852.8,345.7 858.1,379.4 861.5,402.3" fill="none" stroke="#70ad47" stroke-width="3.5" stroke-linejoin="round"/>
<path d="M198.5,296.6 199.5,296.6 200.5,296.6 201.5,296.6 202.5,296.6 203.5,296.6 204.5,296.6 205.5,296.6 206.5,296.6 207.5,296.6 208.5,296.6 209.5,296.6 210.5,296.5 211.5,296.5 212.5,296.5 213.5,296.5 214.5,296.5 215.5,296.5 216.5,296.5 217.5,296.5 218.5,296.5 219.5,296.5 220.5,296.5 221.5,296.5 222.5,296.5 223.5,296.5 224.5,296.5 225.5,296.5 226.5,296.5 227.5,296.5 228.5,296.5 229.5,296.5 230.5,296.5 231.5,296.5 232.5,296.5 233.5,296.5 234.5,296.5 235.5,296.5 236.5,296.5 237.5,296.5 238.5,296.5 239.5,296.5 240.5,296.5 241.5,296.5 242.5,296.5 243.5,296.5 244.5,296.5 245.5,296.5 246.5,296.5 247.5,296.5 248.5,296.5 249.5,296.5 250.5,296.5 251.5,296.5 252.5,296.5 253.5,296.5 254.5,296.5 255.5,296.8 256.5,297.4 257.5,297.5 258.5,297.6 259.5,297.7 260.5,297.8 261.5,297.9 262.5,297.9 263.5,298.0 264.5,298.0 265.5,298.1 266.5,298.2 267.5,298.4 268.5,298.6 269.5,298.8 270.5,299.1 271.5,299.3 272.5,299.5 273.5,299.7 274.5,299.9 275.5,300.1 276.5,300.3 277.5,300.5 278.5,300.8 279.5,301.3 280.5,301.9 281.5,302.4 282.5,302.6 283.5,302.8 284.5,303.0 285.5,303.1 286.5,303.2 287.5,303.4 288.5,303.5 289.5,303.7 290.5,303.9 291.5,304.2 292.5,304.6 293.5,304.9 294.5,305.3 295.5,305.7 296.5,306.1 297.5,306.5 298.5,306.9 299.5,307.3 300.5,307.7 301.5,308.2 302.5,308.6 303.5,309.0 304.5,309.4 305.5,309.8 306.5,310.2 307.5,310.6 308.5,310.9 309.5,311.3 310.5,311.6 311.5,312.0 312.5,312.4 313.5,312.7 314.5,313.0 315.5,313.4 316.5,313.7 317.5,314.0 318.5,314.3 319.5,314.6 320.5,314.9 321.5,315.3 322.5,315.6 323.5,315.9 324.5,316.3 325.5,316.6 326.5,317.0 327.5,317.4 328.5,317.8 329.5,318.2 330.5,318.6 331.5,319.1 332.5,319.5 333.5,319.9 334.5,320.4 335.5,320.9 336.5,321.3 337.5,321.8 338.5,322.3 339.5,322.7 340.5,323.2 341.5,323.7 342.5,324.2 343.5,324.7 344.5,325.2 345.5,325.7 346.5,326.2 347.5,326.7 348.5,327.2 349.5,327.7 350.5,328.2 351.5,328.6 352.5,329.1 353.5,329.5 354.5,329.9 355.5,330.4 356.5,330.8 357.5,331.2 358.5,331.6 359.5,332.0 360.5,332.3 361.5,332.7 362.5,333.1 363.5,333.5 364.5,333.9 365.5,334.3 366.5,334.7 367.5,335.1 368.5,335.5 369.5,335.9 370.5,336.2 371.5,336.6 372.5,337.0 373.5,337.4 374.5,337.8 375.5,338.1 376.5,338.5 377.5,338.9 378.5,339.3 379.5,339.7 380.5,340.0 381.5,340.4 382.5,340.8 383.5,341.2 384.5,341.6 385.5,341.9 386.5,342.3 387.5,342.7 388.5,343.1 389.5,343.5 390.5,343.9 391.5,344.2 392.5,344.6 393.5,345.0 394.5,345.4 395.5,345.7 396.5,346.1 397.5,346.5 398.5,346.9 399.5,347.2 400.5,347.6 401.5,348.0 402.5,348.4 403.5,348.7 404.5,349.1 405.5,349.5 406.5,349.9 407.5,350.3 408.5,350.7 409.5,351.1 410.5,351.5 411.5,351.8 412.5,352.2 413.5,352.6 414.5,353.0 415.5,353.3 416.5,353.6 417.5,354.0 418.5,354.3 419.5,354.5 420.5,354.8 421.5,355.1 422.5,355.3 423.5,355.5 424.5,355.8 425.5,356.0 426.5,356.2 427.5,356.4 428.5,356.6 429.5,356.8 430.5,357.0 431.5,357.2 432.5,357.4 433.5,357.6 434.5,357.8 435.5,358.0 436.5,358.2 437.5,358.3 438.5,358.5 439.5,358.7 440.5,358.9 441.5,359.1 442.5,359.3 443.5,359.5 444.5,359.6 445.5,359.8 446.5,359.9 447.5,360.0 448.5,360.1 449.5,360.2 450.5,360.2 451.5,360.2 452.5,360.3 453.5,360.3 454.5,360.3 455.5,360.3 456.5,360.3 457.5,360.4 458.5,360.4 459.5,360.4 460.5,360.4 461.5,360.4 462.5,360.4 463.5,360.4 464.5,360.4 465.5,360.4 466.5,360.4 467.5,360.4 468.5,360.4 469.5,360.4 470.5,360.4 471.5,360.4 472.5,360.3 473.5,360.3 474.5,360.3 475.5,360.3 476.5,360.3 477.5,360.3 478.5,360.2 479.5,360.2 480.5,360.2 481.5,360.2 482.5,360.1 483.5,360.0 484.5,360.0 485.5,359.9 486.5,359.8 487.5,359.7 488.5,359.6 489.5,359.5 490.5,359.4 491.5,359.3 492.5,359.2 493.5,359.1 494.5,358.9 495.5,358.8 496.5,358.7 497.5,358.6 498.5,358.5 499.5,358.4 500.5,358.2 501.5,358.1 502.5,358.0 503.5,357.9 504.5,357.8 505.5,357.7 506.5,357.6 507.5,357.5 508.5,357.4 509.5,357.3 510.5,357.1 511.5,357.0 512.5,356.9 513.5,356.8 514.5,356.7 515.5,356.6 516.5,356.4 517.5,356.3 518.5,356.2 519.5,356.1 520.5,356.0 521.5,355.8 522.5,355.7 523.5,355.6 524.5,355.5 525.5,355.3 526.5,355.2 527.5,355.1 528.5,355.0 529.5,354.8 530.5,354.7 531.5,354.6 532.5,354.4 533.5,354.3 534.5,354.2 535.5,354.0 536.5,353.9 537.5,353.8 538.5,353.6 539.5,353.5 540.5,353.3 541.5,353.2 542.5,353.1 543.5,352.9 544.5,352.8 545.5,352.6 546.5,352.5 547.5,352.3 548.5,352.2 549.5,352.1 550.5,351.9 551.5,351.8 552.5,351.6 553.5,351.5 554.5,351.3 555.5,351.2 556.5,351.0 557.5,350.9 558.5,350.7 559.5,350.6 560.5,350.5 561.5,350.4 562.5,350.2 563.5,350.1 564.5,350.0 565.5,349.9 566.5,349.7 567.5,349.6 568.5,349.4 569.5,349.3 570.5,349.1 571.5,348.9 572.5,348.7 573.5,348.5 574.5,348.3 575.5,348.0 576.5,347.7 577.5,347.3 578.5,346.9 579.5,346.5 580.5,346.0 581.5,345.5 582.5,345.0 583.5,344.5 584.5,344.1 585.5,343.6 586.5,343.1 587.5,342.7 588.5,342.2 589.5,341.8 590.5,341.4 591.5,341.0 592.5,340.5 593.5,340.1 594.5,339.6 595.5,339.2 596.5,338.8 597.5,338.3 598.5,337.9 599.5,337.4 600.5,336.9 601.5,336.4 602.5,336.0 603.5,335.5 604.5,334.9 605.5,334.4 606.5,333.9 607.5,333.4 608.5,332.9 609.5,332.3 610.5,331.8 611.5,331.2 612.5,330.7 613.5,330.1 614.5,329.5 615.5,328.9 616.5,328.3 617.5,327.6 618.5,327.0 619.5,326.3 620.5,325.6 621.5,324.9 622.5,324.2 623.5,323.4 624.5,322.6 625.5,321.7 626.5,320.9 627.5,320.0 628.5,319.0 629.5,318.1 630.5,317.1 631.5,316.2 632.5,315.2 633.5,314.2 634.5,313.3 635.5,312.3 636.5,311.3 637.5,310.4 638.5,309.5 639.5,308.6 640.5,307.7 641.5,306.8 642.5,305.8 643.5,304.9 644.5,304.0 645.5,303.0 646.5,302.1 647.5,301.2 648.5,300.3 649.5,299.4 650.5,298.5 651.5,297.6 652.5,296.7 653.5,295.8 654.5,295.0 655.5,294.2 656.5,293.4 657.5,292.6 658.5,291.8 659.5,290.9 660.5,290.1 661.5,289.4 662.5,288.6 663.5,287.8 664.5,287.1 665.5,286.3 666.5,285.6 667.5,284.9 668.5,284.3 669.5,283.6 670.5,283.0 671.5,282.4 672.5,281.8 673.5,281.2 674.5,280.7 675.5,280.1 676.5,279.6 677.5,279.1 678.5,278.7 679.5,278.4 680.5,278.2 681.5,278.0 682.5,277.7 683.5,277.5 684.5,277.3 685.5,277.1 686.5,276.8 687.5,276.6 688.5,276.4 689.5,276.3 690.5,276.1 691.5,275.9 692.5,275.8 693.5,275.7 694.5,275.7 695.5,275.6 696.5,275.6 697.5,275.5 698.5,275.5 699.5,275.5 700.5,275.5 701.5,275.4 702.5,275.4 703.5,275.5 704.5,275.5 705.5,275.6 706.5,275.6 707.5,275.7 708.5,275.8 709.5,275.8 710.5,275.9 711.5,276.0 712.5,276.0 713.5,276.1 714.5,276.2 715.5,276.3 716.5,276.3 717.5,276.4 718.5,276.5 719.5,276.5 720.5,276.5 721.5,276.6 722.5,276.6 723.5,276.6 724.5,276.6 725.5,276.6 726.5,276.6 727.5,276.6 728.5,276.5 729.5,276.5 730.5,276.5 731.5,276.5 732.5,276.5 733.5,276.5 734.5,276.5 735.5,276.4 736.5,276.3 737.5,276.2 738.5,276.1 739.5,276.0 740.5,275.8 741.5,275.7 746.8,275.4 752.1,275.5 757.4,275.6 762.7,276.1 768.0,277.5 773.3,279.8 778.6,282.1 783.9,283.8 789.2,286.3 794.5,288.1 799.8,289.3 805.1,291.1 810.4,291.6 815.7,291.0 821.0,288.0 826.3,282.7 831.6,277.1 836.9,275.8 842.2,281.6 847.5,299.7 852.8,325.9 858.1,359.0 861.5,381.6" fill="none" stroke="#a04a1c" stroke-width="3.5" stroke-linejoin="round"/>
<path d="M198.5,348.7 199.5,348.7 200.5,348.7 201.5,348.7 202.5,348.7 203.5,348.7 204.5,348.7 205.5,348.7 206.5,348.7 207.5,348.7 208.5,348.7 209.5,348.7 210.5,348.7 211.5,348.7 212.5,348.7 213.5,348.7 214.5,348.7 215.5,348.7 216.5,348.7 217.5,348.7 218.5,348.7 219.5,348.7 220.5,348.7 221.5,348.7 222.5,348.7 223.5,348.7 224.5,348.7 225.5,348.7 226.5,348.7 227.5,348.7 228.5,348.7 229.5,348.7 230.5,348.7 231.5,348.7 232.5,348.7 233.5,348.7 234.5,348.7 235.5,348.7 236.5,348.7 237.5,348.7 238.5,348.7 239.5,348.7 240.5,348.7 241.5,348.7 242.5,348.7 243.5,348.7 244.5,348.7 245.5,348.7 246.5,348.7 247.5,348.7 248.5,348.7 249.5,348.7 250.5,348.7 251.5,348.7 252.5,348.7 253.5,348.7 254.5,348.7 255.5,348.7 256.5,348.7 257.5,348.7 258.5,348.7 259.5,348.7 260.5,348.7 261.5,348.7 262.5,348.7 263.5,348.7 264.5,348.7 265.5,348.7 266.5,348.7 267.5,348.7 268.5,348.7 269.5,348.7 270.5,348.7 271.5,348.7 272.5,348.7 273.5,348.7 274.5,348.7 275.5,348.7 276.5,348.7 277.5,348.7 278.5,348.7 279.5,348.7 280.5,348.7 281.5,348.7 282.5,348.7 283.5,348.7 284.5,348.7 285.5,348.7 286.5,348.7 287.5,348.7 288.5,348.7 289.5,348.7 290.5,348.7 291.5,348.7 292.5,348.7 293.5,348.7 294.5,348.7 295.5,348.7 296.5,348.7 297.5,348.7 298.5,348.7 299.5,348.7 300.5,348.7 301.5,348.7 302.5,348.7 303.5,348.7 304.5,348.7 305.5,348.7 306.5,348.7 307.5,348.7 308.5,348.7 309.5,348.7 310.5,348.7 311.5,348.7 312.5,348.7 313.5,348.7 314.5,348.7 315.5,348.7 316.5,348.7 317.5,348.7 318.5,348.7 319.5,348.7 320.5,348.7 321.5,348.7 322.5,348.7 323.5,348.7 324.5,348.7 325.5,348.7 326.5,348.7 327.5,348.7 328.5,348.7 329.5,348.7 330.5,348.7 331.5,348.7 332.5,348.7 333.5,348.7 334.5,348.7 335.5,348.7 336.5,348.7 337.5,348.7 338.5,348.7 339.5,348.7 340.5,348.7 341.5,348.7 342.5,348.7 343.5,348.7 344.5,348.7 345.5,348.7 346.5,348.7 347.5,348.7 348.5,348.7 349.5,348.7 350.5,348.7 351.5,348.7 352.5,348.7 353.5,348.7 354.5,348.7 355.5,348.7 356.5,348.7 357.5,348.7 358.5,348.7 359.5,348.7 360.5,348.7 361.5,348.7 362.5,348.7 363.5,348.7 364.5,348.7 365.5,348.7 366.5,348.7 367.5,348.7 368.5,348.7 369.5,348.7 370.5,348.7 371.5,348.7 372.5,348.7 373.5,348.7 374.5,348.7 375.5,348.7 376.5,348.7 377.5,348.7 378.5,348.7 379.5,348.7 380.5,348.7 381.5,348.7 382.5,348.7 383.5,348.7 384.5,348.7 385.5,348.7 386.5,348.7 387.5,348.7 388.5,348.7 389.5,348.7 390.5,348.7 391.5,348.7 392.5,348.7 393.5,348.7 394.5,348.7 395.5,348.7 396.5,348.7 397.5,348.7 398.5,348.7 399.5,348.7 400.5,348.7 401.5,348.7 402.5,348.7 403.5,348.7 404.5,348.7 405.5,348.7 406.5,348.7 407.5,348.7 408.5,348.7 409.5,348.7 410.5,348.7 411.5,348.7 412.5,348.7 413.5,348.7 414.5,348.7 415.5,348.7 416.5,348.7 417.5,348.7 418.5,348.7 419.5,348.7 420.5,348.7 421.5,348.7 422.5,348.7 423.5,348.7 424.5,348.7 425.5,348.7 426.5,348.7 427.5,348.7 428.5,348.7 429.5,348.7 430.5,348.7 431.5,348.7 432.5,348.7 433.5,348.7 434.5,348.7 435.5,348.7 436.5,348.7 437.5,348.7 438.5,348.7 439.5,348.7 440.5,348.7 441.5,348.7 442.5,348.7 443.5,348.7 444.5,348.7 445.5,348.7 446.5,348.7 447.5,348.7 448.5,348.7 449.5,348.7 450.5,348.7 451.5,348.7 452.5,348.7 453.5,348.7 454.5,348.7 455.5,348.7 456.5,348.7 457.5,348.7 458.5,348.7 459.5,348.7 460.5,348.7 461.5,348.7 462.5,348.7 463.5,348.7 464.5,348.7 465.5,348.7 466.5,348.7 467.5,348.7 468.5,348.7 469.5,348.7 470.5,348.7 471.5,348.7 472.5,348.7 473.5,348.7 474.5,348.7 475.5,348.7 476.5,348.7 477.5,348.7 478.5,348.7 479.5,348.7 480.5,348.7 481.5,348.7 482.5,348.7 483.5,348.7 484.5,348.7 485.5,348.7 486.5,348.7 487.5,348.7 488.5,348.7 489.5,348.7 490.5,348.7 491.5,348.7 492.5,348.7 493.5,348.7 494.5,348.7 495.5,348.7 496.5,348.7 497.5,348.7 498.5,348.7 499.5,348.7 500.5,348.7 501.5,348.7 502.5,348.7 503.5,348.7 504.5,348.7 505.5,348.7 506.5,348.7 507.5,348.7 508.5,348.7 509.5,348.7 510.5,348.7 511.5,348.7 512.5,348.7 513.5,348.7 514.5,348.7 515.5,348.7 516.5,348.7 517.5,348.7 518.5,348.7 519.5,348.7 520.5,348.7 521.5,348.7 522.5,348.7 523.5,348.7 524.5,348.7 525.5,348.7 526.5,348.7 527.5,348.7 528.5,348.7 529.5,348.7 530.5,348.7 531.5,348.7 532.5,348.7 533.5,348.7 534.5,348.7 535.5,348.7 536.5,348.7 537.5,348.7 538.5,348.7 539.5,348.7 540.5,348.7 541.5,348.7 542.5,348.7 543.5,348.7 544.5,348.6 545.5,348.6 546.5,348.6 547.5,348.6 548.5,348.6 549.5,348.6 550.5,348.6 551.5,348.6 552.5,348.6 553.5,348.6 554.5,348.6 555.5,348.6 556.5,348.6 557.5,348.6 558.5,348.6 559.5,348.6 560.5,348.6 561.5,348.6 562.5,348.6 563.5,348.6 564.5,348.6 565.5,348.6 566.5,348.6 567.5,348.6 568.5,348.6 569.5,348.6 570.5,348.6 571.5,348.6 572.5,348.6 573.5,348.6 574.5,348.6 575.5,348.6 576.5,348.6 577.5,348.6 578.5,348.6 579.5,348.6 580.5,348.6 581.5,348.6 582.5,348.6 583.5,348.6 584.5,348.6 585.5,348.6 586.5,348.6 587.5,348.6 588.5,348.6 589.5,348.6 590.5,348.6 591.5,348.6 592.5,348.6 593.5,348.6 594.5,348.6 595.5,348.6 596.5,348.6 597.5,348.5 598.5,348.5 599.5,348.5 600.5,348.5 601.5,348.5 602.5,348.5 603.5,348.5 604.5,348.5 605.5,348.5 606.5,348.5 607.5,348.5 608.5,348.5 609.5,348.5 610.5,348.5 611.5,348.5 612.5,348.5 613.5,348.5 614.5,348.5 615.5,348.5 616.5,348.5 617.5,348.5 618.5,348.5 619.5,348.5 620.5,348.5 621.5,348.4 622.5,348.4 623.5,348.4 624.5,348.4 625.5,348.4 626.5,348.4 627.5,348.4 628.5,348.4 629.5,348.4 630.5,348.4 631.5,348.4 632.5,348.4 633.5,348.4 634.5,348.4 635.5,348.4 636.5,348.4 637.5,348.3 638.5,348.3 639.5,348.3 640.5,348.3 641.5,348.3 642.5,348.3 643.5,348.3 644.5,348.3 645.5,348.3 646.5,348.3 647.5,348.3 648.5,348.3 649.5,348.2 650.5,348.2 651.5,348.2 652.5,348.2 653.5,348.2 654.5,348.2 655.5,348.2 656.5,348.2 657.5,348.2 658.5,348.1 659.5,348.1 660.5,348.1 661.5,348.1 662.5,348.1 663.5,348.1 664.5,348.1 665.5,348.1 666.5,348.0 667.5,348.0 668.5,348.0 669.5,348.0 670.5,348.0 671.5,348.0 672.5,347.9 673.5,347.9 674.5,347.9 675.5,347.9 676.5,347.9 677.5,347.9 678.5,347.8 679.5,347.8 680.5,347.8 681.5,347.8 682.5,347.8 683.5,347.7 684.5,347.7 685.5,347.7 686.5,347.7 687.5,347.7 688.5,347.6 689.5,347.6 690.5,347.6 691.5,347.6 692.5,347.5 693.5,347.5 694.5,347.5 695.5,347.4 696.5,347.4 697.5,347.4 698.5,347.4 699.5,347.3 700.5,347.3 701.5,347.2 702.5,347.2 703.5,347.1 704.5,347.1 705.5,347.0 706.5,346.9 707.5,346.9 708.5,346.8 709.5,346.8 710.5,346.7 711.5,346.6 712.5,346.6 713.5,346.5 714.5,346.4 715.5,346.4 716.5,346.3 717.5,346.2 718.5,346.1 719.5,346.1 720.5,346.0 721.5,345.9 722.5,345.8 723.5,345.8 724.5,345.7 725.5,345.6 726.5,345.5 727.5,345.4 728.5,345.3 729.5,345.3 730.5,345.2 731.5,345.0 732.5,344.9 733.5,344.8 734.5,344.7 735.5,344.6 736.5,344.4 737.5,344.3 738.5,344.2 739.5,344.1 740.5,343.9 741.5,343.8 742.5,343.6 743.5,343.5 744.5,343.4 745.5,343.2 746.5,343.1 747.5,342.9 748.5,342.8 749.5,342.6 750.5,342.4 751.5,342.3 752.5,342.1 753.5,342.0 754.5,341.9 755.5,341.8 756.5,341.7 757.5,341.5 758.5,341.4 759.5,341.3 760.5,341.1 761.5,341.0 762.5,340.8 763.5,340.7 764.5,340.5 765.5,340.4 766.5,340.2 767.5,340.1 768.5,339.9 769.5,339.8 770.5,339.6 771.5,339.4 772.5,339.2 773.5,339.0 774.5,338.9 775.5,338.6 776.5,338.4 777.5,338.2 778.5,338.0 779.5,337.7 780.5,337.5 781.5,337.2 782.5,336.9 783.5,336.6 784.5,336.3 785.5,336.0 786.5,335.6 787.5,335.3 788.5,334.9 789.5,334.5 790.5,334.1 791.5,333.6 792.5,333.1 793.5,332.6 794.5,332.0 795.5,331.5 796.5,330.9 797.5,330.3 798.5,329.6 799.5,329.0 800.5,328.3 801.5,327.5 802.5,326.8 803.5,326.0 804.5,325.2 805.5,324.3 806.5,323.4 807.5,322.5 808.5,321.5 809.5,320.5 810.5,319.4 811.5,318.3 812.5,317.1 813.5,315.9 814.5,314.6 815.5,313.3 816.5,311.9 817.5,310.5 818.5,309.0 819.5,307.4 820.5,305.7 821.5,304.0 822.5,302.3 823.5,300.4 824.5,298.5 825.5,296.5 826.5,294.5 827.5,292.4 828.5,290.3 829.5,288.2 830.5,286.0 831.5,283.8 832.5,281.7 833.5,279.6 834.5,277.6 835.5,275.8 836.5,274.1 837.5,272.7 838.5,271.6 839.5,270.8 840.5,270.4 841.5,270.3 842.5,270.6 843.5,271.3 844.5,272.4 845.5,273.7 846.5,275.3 847.5,277.1 848.5,279.1 849.5,281.4 850.5,283.7 851.5,286.1 852.5,288.4 853.5,290.8 854.5,293.1 855.5,295.4 856.5,297.6 857.5,299.8 858.5,301.9 859.5,303.9 860.5,305.9 861.5,307.8" fill="none" stroke="#1271c2" stroke-width="3.5" stroke-linecap="round" stroke-linejoin="round" stroke-dasharray="6.20 7.75" stroke-dashoffset="-1"/>
<path d="M198.5,348.7 199.5,348.7 200.5,348.7 201.5,348.7 202.5,348.7 203.5,348.7 204.5,348.7 205.5,348.7 206.5,348.7 207.5,348.7 208.5,348.7 209.5,348.7 210.5,348.7 211.5,348.7 212.5,348.7 213.5,348.7 214.5,348.7 215.5,348.7 216.5,348.7 217.5,348.7 218.5,348.7 219.5,348.7 220.5,348.7 221.5,348.7 222.5,348.7 223.5,348.7 224.5,348.7 225.5,348.7 226.5,348.7 227.5,348.7 228.5,348.7 229.5,348.7 230.5,348.7 231.5,348.7 232.5,348.7 233.5,348.7 234.5,348.7 235.5,348.7 236.5,348.7 237.5,348.7 238.5,348.7 239.5,348.7 240.5,348.7 241.5,348.7 242.5,348.7 243.5,348.7 244.5,348.7 245.5,348.7 246.5,348.7 247.5,348.7 248.5,348.7 249.5,348.7 250.5,348.7 251.5,348.7 252.5,348.7 253.5,348.7 254.5,348.7 255.5,348.7 256.5,348.7 257.5,348.7 258.5,348.7 259.5,348.7 260.5,348.7 261.5,348.7 262.5,348.7 263.5,348.7 264.5,348.7 265.5,348.7 266.5,348.7 267.5,348.7 268.5,348.7 269.5,348.7 270.5,348.7 271.5,348.7 272.5,348.7 273.5,348.7 274.5,348.7 275.5,348.7 276.5,348.7 277.5,348.7 278.5,348.7 279.5,348.7 280.5,348.7 281.5,348.7 282.5,348.7 283.5,348.7 284.5,348.7 285.5,348.7 286.5,348.7 287.5,348.7 288.5,348.7 289.5,348.7 290.5,348.7 291.5,348.7 292.5,348.7 293.5,348.7 294.5,348.7 295.5,348.7 296.5,348.7 297.5,348.7 298.5,348.7 299.5,348.7 300.5,348.7 301.5,348.7 302.5,348.7 303.5,348.7 304.5,348.7 305.5,348.7 306.5,348.7 307.5,348.7 308.5,348.7 309.5,348.7 310.5,348.7 311.5,348.7 312.5,348.7 313.5,348.7 314.5,348.7 315.5,348.7 316.5,348.7 317.5,348.7 318.5,348.7 319.5,348.7 320.5,348.7 321.5,348.7 322.5,348.7 323.5,348.7 324.5,348.7 325.5,348.7 326.5,348.7 327.5,348.7 328.5,348.7 329.5,348.7 330.5,348.7 331.5,348.7 332.5,348.7 333.5,348.7 334.5,348.7 335.5,348.7 336.5,348.7 337.5,348.7 338.5,348.7 339.5,348.7 340.5,348.7 341.5,348.7 342.5,348.7 343.5,348.7 344.5,348.7 345.5,348.7 346.5,348.7 347.5,348.7 348.5,348.7 349.5,348.7 350.5,348.7 351.5,348.7 352.5,348.7 353.5,348.7 354.5,348.7 355.5,348.7 356.5,348.7 357.5,348.7 358.5,348.7 359.5,348.7 360.5,348.7 361.5,348.7 362.5,348.7 363.5,348.7 364.5,348.7 365.5,348.7 366.5,348.7 367.5,348.7 368.5,348.7 369.5,348.7 370.5,348.7 371.5,348.7 372.5,348.7 373.5,348.7 374.5,348.7 375.5,348.7 376.5,348.7 377.5,348.7 378.5,348.7 379.5,348.7 380.5,348.7 381.5,348.7 382.5,348.7 383.5,348.7 384.5,348.7 385.5,348.7 386.5,348.7 387.5,348.7 388.5,348.7 389.5,348.7 390.5,348.7 391.5,348.7 392.5,348.7 393.5,348.7 394.5,348.7 395.5,348.7 396.5,348.7 397.5,348.7 398.5,348.7 399.5,348.7 400.5,348.7 401.5,348.7 402.5,348.7 403.5,348.7 404.5,348.7 405.5,348.7 406.5,348.7 407.5,348.7 408.5,348.7 409.5,348.7 410.5,348.7 411.5,348.7 412.5,348.7 413.5,348.7 414.5,348.7 415.5,348.7 416.5,348.7 417.5,348.7 418.5,348.7 419.5,348.7 420.5,348.7 421.5,348.7 422.5,348.7 423.5,348.7 424.5,348.7 425.5,348.7 426.5,348.7 427.5,348.7 428.5,348.7 429.5,348.7 430.5,348.7 431.5,348.7 432.5,348.7 433.5,348.7 434.5,348.7 435.5,348.7 436.5,348.7 437.5,348.7 438.5,348.7 439.5,348.7 440.5,348.7 441.5,348.7 442.5,348.7 443.5,348.7 444.5,348.7 445.5,348.7 446.5,348.7 447.5,348.7 448.5,348.7 449.5,348.7 450.5,348.7 451.5,348.7 452.5,348.7 453.5,348.7 454.5,348.7 455.5,348.7 456.5,348.7 457.5,348.7 458.5,348.7 459.5,348.7 460.5,348.7 461.5,348.7 462.5,348.7 463.5,348.7 464.5,348.7 465.5,348.7 466.5,348.7 467.5,348.7 468.5,348.7 469.5,348.7 470.5,348.7 471.5,348.7 472.5,348.7 473.5,348.7 474.5,348.7 475.5,348.7 476.5,348.7 477.5,348.7 478.5,348.7 479.5,348.7 480.5,348.7 481.5,348.7 482.5,348.7 483.5,348.7 484.5,348.7 485.5,348.7 486.5,348.7 487.5,348.7 488.5,348.7 489.5,348.7 490.5,348.7 491.5,348.7 492.5,348.7 493.5,348.7 494.5,348.7 495.5,348.7 496.5,348.7 497.5,348.7 498.5,348.7 499.5,348.7 500.5,348.7 501.5,348.7 502.5,348.7 503.5,348.6 504.5,348.6 505.5,348.6 506.5,348.6 507.5,348.6 508.5,348.6 509.5,348.6 510.5,348.6 511.5,348.6 512.5,348.6 513.5,348.6 514.5,348.6 515.5,348.6 516.5,348.6 517.5,348.6 518.5,348.6 519.5,348.6 520.5,348.6 521.5,348.6 522.5,348.6 523.5,348.6 524.5,348.6 525.5,348.6 526.5,348.6 527.5,348.6 528.5,348.6 529.5,348.6 530.5,348.6 531.5,348.6 532.5,348.6 533.5,348.6 534.5,348.6 535.5,348.6 536.5,348.6 537.5,348.6 538.5,348.6 539.5,348.6 540.5,348.6 541.5,348.6 542.5,348.6 543.5,348.6 544.5,348.6 545.5,348.6 546.5,348.6 547.5,348.6 548.5,348.6 549.5,348.6 550.5,348.6 551.5,348.6 552.5,348.6 553.5,348.6 554.5,348.6 555.5,348.5 556.5,348.5 557.5,348.5 558.5,348.5 559.5,348.5 560.5,348.5 561.5,348.5 562.5,348.5 563.5,348.5 564.5,348.5 565.5,348.5 566.5,348.5 567.5,348.5 568.5,348.5 569.5,348.5 570.5,348.5 571.5,348.5 572.5,348.5 573.5,348.5 574.5,348.5 575.5,348.5 576.5,348.5 577.5,348.5 578.5,348.5 579.5,348.5 580.5,348.4 581.5,348.4 582.5,348.4 583.5,348.4 584.5,348.4 585.5,348.4 586.5,348.4 587.5,348.4 588.5,348.4 589.5,348.4 590.5,348.4 591.5,348.4 592.5,348.4 593.5,348.4 594.5,348.4 595.5,348.4 596.5,348.3 597.5,348.3 598.5,348.3 599.5,348.3 600.5,348.3 601.5,348.3 602.5,348.3 603.5,348.3 604.5,348.3 605.5,348.3 606.5,348.3 607.5,348.3 608.5,348.2 609.5,348.2 610.5,348.2 611.5,348.2 612.5,348.2 613.5,348.2 614.5,348.2 615.5,348.2 616.5,348.2 617.5,348.1 618.5,348.1 619.5,348.1 620.5,348.1 621.5,348.1 622.5,348.1 623.5,348.1 624.5,348.1 625.5,348.0 626.5,348.0 627.5,348.0 628.5,348.0 629.5,348.0 630.5,348.0 631.5,348.0 632.5,347.9 633.5,347.9 634.5,347.9 635.5,347.9 636.5,347.9 637.5,347.9 638.5,347.8 639.5,347.8 640.5,347.8 641.5,347.8 642.5,347.8 643.5,347.7 644.5,347.7 645.5,347.7 646.5,347.7 647.5,347.7 648.5,347.6 649.5,347.6 650.5,347.6 651.5,347.6 652.5,347.5 653.5,347.5 654.5,347.5 655.5,347.5 656.5,347.4 657.5,347.4 658.5,347.4 659.5,347.4 660.5,347.3 661.5,347.3 662.5,347.3 663.5,347.2 664.5,347.2 665.5,347.2 666.5,347.1 667.5,347.1 668.5,347.1 669.5,347.0 670.5,347.0 671.5,347.0 672.5,346.9 673.5,346.9 674.5,346.9 675.5,346.8 676.5,346.8 677.5,346.7 678.5,346.7 679.5,346.6 680.5,346.6 681.5,346.6 682.5,346.5 683.5,346.5 684.5,346.4 685.5,346.4 686.5,346.3 687.5,346.3 688.5,346.2 689.5,346.1 690.5,346.1 691.5,346.0 692.5,346.0 693.5,345.9 694.5,345.9 695.5,345.8 696.5,345.7 697.5,345.7 698.5,345.6 699.5,345.5 700.5,345.4 701.5,345.4 702.5,345.3 703.5,345.2 704.5,345.1 705.5,345.0 706.5,344.9 707.5,344.8 708.5,344.7 709.5,344.6 710.5,344.5 711.5,344.4 712.5,344.3 713.5,344.2 714.5,344.0 715.5,343.9 716.5,343.8 717.5,343.7 718.5,343.6 719.5,343.4 720.5,343.3 721.5,343.2 722.5,343.0 723.5,342.9 724.5,342.8 725.5,342.6 726.5,342.5 727.5,342.3 728.5,342.2 729.5,342.0 730.5,341.8 731.5,341.6 732.5,341.4 733.5,341.2 734.5,341.0 735.5,340.8 736.5,340.5 737.5,340.3 738.5,340.1 739.5,339.8 740.5,339.6 741.5,339.3 742.5,339.1 743.5,338.8 744.5,338.5 745.5,338.3 746.5,338.0 747.5,337.7 748.5,337.4 749.5,337.1 750.5,336.8 751.5,336.5 752.5,336.3 753.5,336.1 754.5,335.8 755.5,335.6 756.5,335.3 757.5,335.1 758.5,334.8 759.5,334.6 760.5,334.3 761.5,334.0 762.5,333.7 763.5,333.4 764.5,333.1 765.5,332.8 766.5,332.5 767.5,332.2 768.5,331.8 769.5,331.5 770.5,331.2 771.5,330.8 772.5,330.4 773.5,330.1 774.5,329.7 775.5,329.3 776.5,328.9 777.5,328.4 778.5,328.0 779.5,327.5 780.5,327.1 781.5,326.6 782.5,326.1 783.5,325.6 784.5,325.1 785.5,324.5 786.5,323.9 787.5,323.4 788.5,322.8 789.5,322.1 790.5,321.4 791.5,320.7 792.5,320.0 793.5,319.2 794.5,318.4 795.5,317.5 796.5,316.7 797.5,315.8 798.5,315.0 799.5,314.2 800.5,313.3 801.5,312.5 802.5,311.6 803.5,310.7 804.5,309.7 805.5,308.7 806.5,307.7 807.5,306.6 808.5,305.5 809.5,304.3 810.5,303.1 811.5,301.8 812.5,300.5 813.5,299.2 814.5,297.8 815.5,296.3 816.5,294.7 817.5,293.1 818.5,291.4 819.5,289.7 820.5,287.9 821.5,286.1 822.5,284.0 823.5,281.8 824.5,279.6 825.5,277.3 826.5,275.0 827.5,272.7 828.5,270.6 829.5,268.4 830.5,266.2 831.5,264.1 832.5,261.9 833.5,259.5 834.5,257.2 835.5,255.0 836.5,253.1 837.5,251.4 838.5,250.2 839.5,249.2 840.5,248.6 841.5,248.3 842.5,248.6 843.5,249.4 844.5,250.6 845.5,252.1 846.5,253.8 847.5,255.7 848.5,257.6 849.5,259.6 850.5,261.7 851.5,263.9 852.5,266.1 853.5,268.3 854.5,270.4 855.5,272.6 856.5,274.8 857.5,276.9 858.5,278.9 859.5,280.9 860.5,282.9 861.5,284.8" fill="none" stroke="#ee1c25" stroke-width="3.5" stroke-linecap="round" stroke-linejoin="round" stroke-dasharray="6.20 7.75" stroke-dashoffset="-1"/>
<path d="M198.5,348.7 199.5,348.7 200.5,348.7 201.5,348.7 202.5,348.7 203.5,348.7 204.5,348.7 205.5,348.7 206.5,348.7 207.5,348.7 208.5,348.7 209.5,348.7 210.5,348.7 211.5,348.7 212.5,348.7 213.5,348.7 214.5,348.7 215.5,348.7 216.5,348.7 217.5,348.7 218.5,348.7 219.5,348.7 220.5,348.7 221.5,348.7 222.5,348.7 223.5,348.7 224.5,348.7 225.5,348.7 226.5,348.7 227.5,348.7 228.5,348.7 229.5,348.7 230.5,348.7 231.5,348.7 232.5,348.7 233.5,348.7 234.5,348.7 235.5,348.7 236.5,348.7 237.5,348.7 238.5,348.7 239.5,348.7 240.5,348.7 241.5,348.7 242.5,348.7 243.5,348.7 244.5,348.7 245.5,348.7 246.5,348.7 247.5,348.7 248.5,348.7 249.5,348.7 250.5,348.7 251.5,348.7 252.5,348.7 253.5,348.7 254.5,348.7 255.5,348.7 256.5,348.7 257.5,348.7 258.5,348.7 259.5,348.7 260.5,348.7 261.5,348.7 262.5,348.7 263.5,348.7 264.5,348.7 265.5,348.7 266.5,348.7 267.5,348.7 268.5,348.7 269.5,348.7 270.5,348.7 271.5,348.7 272.5,348.7 273.5,348.7 274.5,348.7 275.5,348.7 276.5,348.7 277.5,348.7 278.5,348.7 279.5,348.7 280.5,348.7 281.5,348.7 282.5,348.7 283.5,348.7 284.5,348.7 285.5,348.7 286.5,348.7 287.5,348.7 288.5,348.7 289.5,348.7 290.5,348.7 291.5,348.7 292.5,348.7 293.5,348.7 294.5,348.7 295.5,348.7 296.5,348.7 297.5,348.7 298.5,348.7 299.5,348.7 300.5,348.7 301.5,348.7 302.5,348.7 303.5,348.7 304.5,348.7 305.5,348.7 306.5,348.7 307.5,348.7 308.5,348.7 309.5,348.7 310.5,348.7 311.5,348.7 312.5,348.7 313.5,348.7 314.5,348.7 315.5,348.7 316.5,348.7 317.5,348.7 318.5,348.7 319.5,348.7 320.5,348.7 321.5,348.7 322.5,348.7 323.5,348.7 324.5,348.7 325.5,348.7 326.5,348.7 327.5,348.7 328.5,348.7 329.5,348.7 330.5,348.7 331.5,348.7 332.5,348.7 333.5,348.7 334.5,348.7 335.5,348.7 336.5,348.7 337.5,348.7 338.5,348.7 339.5,348.7 340.5,348.7 341.5,348.7 342.5,348.7 343.5,348.7 344.5,348.7 345.5,348.7 346.5,348.7 347.5,348.7 348.5,348.7 349.5,348.7 350.5,348.7 351.5,348.7 352.5,348.7 353.5,348.7 354.5,348.7 355.5,348.7 356.5,348.7 357.5,348.7 358.5,348.7 359.5,348.7 360.5,348.7 361.5,348.7 362.5,348.7 363.5,348.7 364.5,348.7 365.5,348.7 366.5,348.7 367.5,348.7 368.5,348.7 369.5,348.7 370.5,348.7 371.5,348.7 372.5,348.7 373.5,348.7 374.5,348.7 375.5,348.7 376.5,348.7 377.5,348.7 378.5,348.7 379.5,348.7 380.5,348.7 381.5,348.7 382.5,348.7 383.5,348.7 384.5,348.7 385.5,348.7 386.5,348.7 387.5,348.7 388.5,348.7 389.5,348.7 390.5,348.7 391.5,348.7 392.5,348.7 393.5,348.7 394.5,348.7 395.5,348.7 396.5,348.7 397.5,348.7 398.5,348.7 399.5,348.7 400.5,348.7 401.5,348.7 402.5,348.7 403.5,348.7 404.5,348.7 405.5,348.7 406.5,348.7 407.5,348.7 408.5,348.7 409.5,348.7 410.5,348.7 411.5,348.7 412.5,348.7 413.5,348.7 414.5,348.7 415.5,348.7 416.5,348.7 417.5,348.7 418.5,348.7 419.5,348.7 420.5,348.7 421.5,348.7 422.5,348.7 423.5,348.7 424.5,348.7 425.5,348.7 426.5,348.7 427.5,348.7 428.5,348.7 429.5,348.7 430.5,348.7 431.5,348.7 432.5,348.7 433.5,348.7 434.5,348.7 435.5,348.7 436.5,348.7 437.5,348.7 438.5,348.7 439.5,348.7 440.5,348.7 441.5,348.7 442.5,348.7 443.5,348.7 444.5,348.7 445.5,348.7 446.5,348.7 447.5,348.7 448.5,348.7 449.5,348.7 450.5,348.7 451.5,348.7 452.5,348.7 453.5,348.7 454.5,348.7 455.5,348.7 456.5,348.7 457.5,348.7 458.5,348.7 459.5,348.7 460.5,348.7 461.5,348.7 462.5,348.7 463.5,348.7 464.5,348.7 465.5,348.7 466.5,348.7 467.5,348.6 468.5,348.6 469.5,348.6 470.5,348.6 471.5,348.6 472.5,348.6 473.5,348.6 474.5,348.6 475.5,348.6 476.5,348.6 477.5,348.6 478.5,348.6 479.5,348.6 480.5,348.6 481.5,348.6 482.5,348.6 483.5,348.6 484.5,348.6 485.5,348.6 486.5,348.6 487.5,348.6 488.5,348.6 489.5,348.6 490.5,348.6 491.5,348.6 492.5,348.6 493.5,348.6 494.5,348.6 495.5,348.6 496.5,348.6 497.5,348.6 498.5,348.6 499.5,348.6 500.5,348.6 501.5,348.6 502.5,348.6 503.5,348.6 504.5,348.6 505.5,348.6 506.5,348.6 507.5,348.6 508.5,348.6 509.5,348.6 510.5,348.6 511.5,348.6 512.5,348.6 513.5,348.6 514.5,348.6 515.5,348.6 516.5,348.6 517.5,348.6 518.5,348.6 519.5,348.6 520.5,348.5 521.5,348.5 522.5,348.5 523.5,348.5 524.5,348.5 525.5,348.5 526.5,348.5 527.5,348.5 528.5,348.5 529.5,348.5 530.5,348.5 531.5,348.5 532.5,348.5 533.5,348.5 534.5,348.5 535.5,348.5 536.5,348.5 537.5,348.5 538.5,348.5 539.5,348.5 540.5,348.5 541.5,348.5 542.5,348.5 543.5,348.5 544.5,348.4 545.5,348.4 546.5,348.4 547.5,348.4 548.5,348.4 549.5,348.4 550.5,348.4 551.5,348.4 552.5,348.4 553.5,348.4 554.5,348.4 555.5,348.4 556.5,348.4 557.5,348.4 558.5,348.4 559.5,348.4 560.5,348.3 561.5,348.3 562.5,348.3 563.5,348.3 564.5,348.3 565.5,348.3 566.5,348.3 567.5,348.3 568.5,348.3 569.5,348.3 570.5,348.3 571.5,348.3 572.5,348.2 573.5,348.2 574.5,348.2 575.5,348.2 576.5,348.2 577.5,348.2 578.5,348.2 579.5,348.2 580.5,348.2 581.5,348.2 582.5,348.1 583.5,348.1 584.5,348.1 585.5,348.1 586.5,348.1 587.5,348.1 588.5,348.1 589.5,348.1 590.5,348.0 591.5,348.0 592.5,348.0 593.5,348.0 594.5,348.0 595.5,348.0 596.5,348.0 597.5,347.9 598.5,347.9 599.5,347.9 600.5,347.9 601.5,347.9 602.5,347.9 603.5,347.8 604.5,347.8 605.5,347.8 606.5,347.8 607.5,347.8 608.5,347.7 609.5,347.7 610.5,347.7 611.5,347.7 612.5,347.7 613.5,347.6 614.5,347.6 615.5,347.6 616.5,347.6 617.5,347.5 618.5,347.5 619.5,347.5 620.5,347.5 621.5,347.4 622.5,347.4 623.5,347.4 624.5,347.4 625.5,347.3 626.5,347.3 627.5,347.3 628.5,347.2 629.5,347.2 630.5,347.2 631.5,347.2 632.5,347.1 633.5,347.1 634.5,347.1 635.5,347.0 636.5,347.0 637.5,347.0 638.5,346.9 639.5,346.9 640.5,346.8 641.5,346.8 642.5,346.8 643.5,346.7 644.5,346.7 645.5,346.6 646.5,346.6 647.5,346.5 648.5,346.5 649.5,346.5 650.5,346.4 651.5,346.4 652.5,346.3 653.5,346.3 654.5,346.2 655.5,346.2 656.5,346.1 657.5,346.0 658.5,346.0 659.5,345.9 660.5,345.9 661.5,345.8 662.5,345.8 663.5,345.7 664.5,345.6 665.5,345.6 666.5,345.5 667.5,345.4 668.5,345.4 669.5,345.3 670.5,345.2 671.5,345.2 672.5,345.1 673.5,345.0 674.5,344.9 675.5,344.8 676.5,344.8 677.5,344.7 678.5,344.6 679.5,344.5 680.5,344.4 681.5,344.3 682.5,344.2 683.5,344.1 684.5,344.1 685.5,344.0 686.5,343.9 687.5,343.8 688.5,343.7 689.5,343.5 690.5,343.4 691.5,343.3 692.5,343.2 693.5,343.1 694.5,343.0 695.5,342.9 696.5,342.7 697.5,342.6 698.5,342.5 699.5,342.4 700.5,342.2 701.5,342.1 702.5,341.9 703.5,341.7 704.5,341.6 705.5,341.4 706.5,341.2 707.5,341.1 708.5,340.9 709.5,340.7 710.5,340.5 711.5,340.3 712.5,340.1 713.5,340.0 714.5,339.8 715.5,339.6 716.5,339.3 717.5,339.1 718.5,338.9 719.5,338.7 720.5,338.5 721.5,338.3 722.5,338.0 723.5,337.8 724.5,337.6 725.5,337.3 726.5,337.1 727.5,336.8 728.5,336.6 729.5,336.3 730.5,336.0 731.5,335.7 732.5,335.4 733.5,335.0 734.5,334.7 735.5,334.4 736.5,334.0 737.5,333.7 738.5,333.3 739.5,333.0 740.5,332.6 741.5,332.2 742.5,331.8 743.5,331.5 744.5,331.1 745.5,330.7 746.5,330.3 747.5,329.8 748.5,329.4 749.5,329.0 750.5,328.5 751.5,328.1 752.5,327.7 753.5,327.3 754.5,327.0 755.5,326.6 756.5,326.2 757.5,325.8 758.5,325.4 759.5,325.0 760.5,324.5 761.5,324.1 762.5,323.7 763.5,323.2 764.5,322.7 765.5,322.3 766.5,321.8 767.5,321.3 768.5,320.8 769.5,320.3 770.5,319.8 771.5,319.3 772.5,318.7 773.5,318.2 774.5,317.6 775.5,317.0 776.5,316.4 777.5,315.8 778.5,315.2 779.5,314.5 780.5,313.9 781.5,313.2 782.5,312.5 783.5,311.8 784.5,311.1 785.5,310.4 786.5,309.6 787.5,308.9 788.5,308.1 789.5,307.3 790.5,306.4 791.5,305.5 792.5,304.5 793.5,303.5 794.5,302.6 795.5,301.5 796.5,300.5 797.5,299.4 798.5,298.3 799.5,297.2 800.5,296.1 801.5,295.1 802.5,294.0 803.5,292.9 804.5,291.8 805.5,290.7 806.5,289.5 807.5,288.2 808.5,287.0 809.5,285.7 810.5,284.3 811.5,282.9 812.5,281.5 813.5,279.9 814.5,278.3 815.5,276.7 816.5,275.0 817.5,273.2 818.5,271.4 819.5,269.3 820.5,267.3 821.5,265.2 822.5,263.0 823.5,260.8 824.5,258.6 825.5,256.5 826.5,254.3 827.5,252.1 828.5,249.8 829.5,247.6 830.5,245.3 831.5,242.8 832.5,240.5 833.5,238.2 834.5,236.0 835.5,234.0 836.5,232.2 837.5,230.7 838.5,229.5 839.5,228.5 840.5,227.9 841.5,227.7 842.5,228.0 843.5,228.8 844.5,229.9 845.5,231.4 846.5,233.1 847.5,234.9 848.5,237.0 849.5,239.3 850.5,241.6 851.5,244.1 852.5,246.5 853.5,249.0 854.5,251.5 855.5,254.0 856.5,256.5 857.5,258.9 858.5,261.3 859.5,263.6 860.5,266.0 861.5,268.2" fill="none" stroke="#4e8430" stroke-width="3.5" stroke-linecap="round" stroke-linejoin="round" stroke-dasharray="6.20 7.75" stroke-dashoffset="-1"/>
<path d="M198.5,348.7 199.5,348.7 200.5,348.7 201.5,348.7 202.5,348.7 203.5,348.7 204.5,348.7 205.5,348.7 206.5,348.7 207.5,348.7 208.5,348.7 209.5,348.7 210.5,348.7 211.5,348.7 212.5,348.7 213.5,348.7 214.5,348.7 215.5,348.7 216.5,348.7 217.5,348.7 218.5,348.7 219.5,348.7 220.5,348.7 221.5,348.7 222.5,348.7 223.5,348.7 224.5,348.7 225.5,348.7 226.5,348.7 227.5,348.7 228.5,348.7 229.5,348.7 230.5,348.7 231.5,348.7 232.5,348.7 233.5,348.7 234.5,348.7 235.5,348.7 236.5,348.7 237.5,348.7 238.5,348.7 239.5,348.7 240.5,348.7 241.5,348.7 242.5,348.7 243.5,348.7 244.5,348.7 245.5,348.7 246.5,348.7 247.5,348.7 248.5,348.7 249.5,348.7 250.5,348.7 251.5,348.7 252.5,348.7 253.5,348.7 254.5,348.7 255.5,348.7 256.5,348.7 257.5,348.7 258.5,348.7 259.5,348.7 260.5,348.7 261.5,348.7 262.5,348.7 263.5,348.7 264.5,348.7 265.5,348.7 266.5,348.7 267.5,348.7 268.5,348.7 269.5,348.7 270.5,348.7 271.5,348.7 272.5,348.7 273.5,348.7 274.5,348.7 275.5,348.7 276.5,348.7 277.5,348.7 278.5,348.7 279.5,348.7 280.5,348.7 281.5,348.7 282.5,348.7 283.5,348.7 284.5,348.7 285.5,348.7 286.5,348.7 287.5,348.7 288.5,348.7 289.5,348.7 290.5,348.7 291.5,348.7 292.5,348.7 293.5,348.7 294.5,348.7 295.5,348.7 296.5,348.7 297.5,348.7 298.5,348.7 299.5,348.7 300.5,348.7 301.5,348.7 302.5,348.7 303.5,348.7 304.5,348.7 305.5,348.7 306.5,348.7 307.5,348.7 308.5,348.7 309.5,348.7 310.5,348.7 311.5,348.7 312.5,348.7 313.5,348.7 314.5,348.7 315.5,348.7 316.5,348.7 317.5,348.7 318.5,348.7 319.5,348.7 320.5,348.7 321.5,348.7 322.5,348.7 323.5,348.7 324.5,348.7 325.5,348.7 326.5,348.7 327.5,348.7 328.5,348.7 329.5,348.7 330.5,348.7 331.5,348.7 332.5,348.7 333.5,348.7 334.5,348.7 335.5,348.7 336.5,348.7 337.5,348.7 338.5,348.7 339.5,348.7 340.5,348.7 341.5,348.7 342.5,348.7 343.5,348.7 344.5,348.7 345.5,348.7 346.5,348.7 347.5,348.7 348.5,348.7 349.5,348.7 350.5,348.7 351.5,348.7 352.5,348.7 353.5,348.7 354.5,348.7 355.5,348.7 356.5,348.7 357.5,348.7 358.5,348.7 359.5,348.7 360.5,348.7 361.5,348.7 362.5,348.7 363.5,348.7 364.5,348.7 365.5,348.7 366.5,348.7 367.5,348.7 368.5,348.7 369.5,348.7 370.5,348.7 371.5,348.7 372.5,348.7 373.5,348.7 374.5,348.7 375.5,348.7 376.5,348.7 377.5,348.7 378.5,348.7 379.5,348.7 380.5,348.7 381.5,348.7 382.5,348.7 383.5,348.7 384.5,348.7 385.5,348.7 386.5,348.7 387.5,348.7 388.5,348.7 389.5,348.7 390.5,348.7 391.5,348.7 392.5,348.7 393.5,348.7 394.5,348.7 395.5,348.7 396.5,348.7 397.5,348.7 398.5,348.7 399.5,348.7 400.5,348.7 401.5,348.7 402.5,348.7 403.5,348.7 404.5,348.7 405.5,348.7 406.5,348.7 407.5,348.7 408.5,348.7 409.5,348.7 410.5,348.7 411.5,348.7 412.5,348.7 413.5,348.7 414.5,348.7 415.5,348.7 416.5,348.7 417.5,348.7 418.5,348.7 419.5,348.7 420.5,348.7 421.5,348.7 422.5,348.7 423.5,348.7 424.5,348.7 425.5,348.7 426.5,348.7 427.5,348.7 428.5,348.7 429.5,348.7 430.5,348.7 431.5,348.7 432.5,348.7 433.5,348.7 434.5,348.7 435.5,348.6 436.5,348.6 437.5,348.6 438.5,348.6 439.5,348.6 440.5,348.6 441.5,348.6 442.5,348.6 443.5,348.6 444.5,348.6 445.5,348.6 446.5,348.6 447.5,348.6 448.5,348.6 449.5,348.6 450.5,348.6 451.5,348.6 452.5,348.6 453.5,348.6 454.5,348.6 455.5,348.6 456.5,348.6 457.5,348.6 458.5,348.6 459.5,348.6 460.5,348.6 461.5,348.6 462.5,348.6 463.5,348.6 464.5,348.6 465.5,348.6 466.5,348.6 467.5,348.6 468.5,348.6 469.5,348.6 470.5,348.6 471.5,348.6 472.5,348.6 473.5,348.6 474.5,348.6 475.5,348.6 476.5,348.6 477.5,348.6 478.5,348.6 479.5,348.6 480.5,348.6 481.5,348.6 482.5,348.6 483.5,348.6 484.5,348.6 485.5,348.6 486.5,348.6 487.5,348.6 488.5,348.5 489.5,348.5 490.5,348.5 491.5,348.5 492.5,348.5 493.5,348.5 494.5,348.5 495.5,348.5 496.5,348.5 497.5,348.5 498.5,348.5 499.5,348.5 500.5,348.5 501.5,348.5 502.5,348.5 503.5,348.5 504.5,348.5 505.5,348.5 506.5,348.5 507.5,348.5 508.5,348.5 509.5,348.5 510.5,348.5 511.5,348.5 512.5,348.5 513.5,348.4 514.5,348.4 515.5,348.4 516.5,348.4 517.5,348.4 518.5,348.4 519.5,348.4 520.5,348.4 521.5,348.4 522.5,348.4 523.5,348.4 524.5,348.4 525.5,348.4 526.5,348.4 527.5,348.4 528.5,348.4 529.5,348.3 530.5,348.3 531.5,348.3 532.5,348.3 533.5,348.3 534.5,348.3 535.5,348.3 536.5,348.3 537.5,348.3 538.5,348.3 539.5,348.3 540.5,348.3 541.5,348.2 542.5,348.2 543.5,348.2 544.5,348.2 545.5,348.2 546.5,348.2 547.5,348.2 548.5,348.2 549.5,348.2 550.5,348.2 551.5,348.1 552.5,348.1 553.5,348.1 554.5,348.1 555.5,348.1 556.5,348.1 557.5,348.1 558.5,348.1 559.5,348.0 560.5,348.0 561.5,348.0 562.5,348.0 563.5,348.0 564.5,348.0 565.5,348.0 566.5,347.9 567.5,347.9 568.5,347.9 569.5,347.9 570.5,347.9 571.5,347.9 572.5,347.8 573.5,347.8 574.5,347.8 575.5,347.8 576.5,347.8 577.5,347.7 578.5,347.7 579.5,347.7 580.5,347.7 581.5,347.7 582.5,347.6 583.5,347.6 584.5,347.6 585.5,347.6 586.5,347.5 587.5,347.5 588.5,347.5 589.5,347.5 590.5,347.4 591.5,347.4 592.5,347.4 593.5,347.4 594.5,347.3 595.5,347.3 596.5,347.3 597.5,347.3 598.5,347.2 599.5,347.2 600.5,347.2 601.5,347.1 602.5,347.1 603.5,347.1 604.5,347.0 605.5,347.0 606.5,347.0 607.5,346.9 608.5,346.9 609.5,346.8 610.5,346.8 611.5,346.8 612.5,346.7 613.5,346.7 614.5,346.6 615.5,346.6 616.5,346.6 617.5,346.5 618.5,346.5 619.5,346.4 620.5,346.4 621.5,346.3 622.5,346.3 623.5,346.2 624.5,346.2 625.5,346.1 626.5,346.1 627.5,346.0 628.5,346.0 629.5,345.9 630.5,345.9 631.5,345.8 632.5,345.7 633.5,345.7 634.5,345.6 635.5,345.5 636.5,345.5 637.5,345.4 638.5,345.3 639.5,345.3 640.5,345.2 641.5,345.1 642.5,345.1 643.5,345.0 644.5,344.9 645.5,344.8 646.5,344.8 647.5,344.7 648.5,344.6 649.5,344.5 650.5,344.4 651.5,344.3 652.5,344.3 653.5,344.2 654.5,344.1 655.5,344.0 656.5,343.9 657.5,343.8 658.5,343.7 659.5,343.6 660.5,343.5 661.5,343.4 662.5,343.3 663.5,343.2 664.5,343.0 665.5,342.9 666.5,342.8 667.5,342.7 668.5,342.6 669.5,342.5 670.5,342.3 671.5,342.2 672.5,342.1 673.5,341.9 674.5,341.8 675.5,341.7 676.5,341.5 677.5,341.4 678.5,341.2 679.5,341.1 680.5,340.9 681.5,340.8 682.5,340.6 683.5,340.5 684.5,340.3 685.5,340.1 686.5,340.0 687.5,339.8 688.5,339.6 689.5,339.5 690.5,339.3 691.5,339.1 692.5,338.9 693.5,338.7 694.5,338.5 695.5,338.3 696.5,338.1 697.5,337.9 698.5,337.7 699.5,337.5 700.5,337.3 701.5,337.0 702.5,336.8 703.5,336.6 704.5,336.3 705.5,336.1 706.5,335.8 707.5,335.6 708.5,335.3 709.5,335.0 710.5,334.8 711.5,334.5 712.5,334.2 713.5,333.9 714.5,333.7 715.5,333.4 716.5,333.1 717.5,332.8 718.5,332.5 719.5,332.1 720.5,331.8 721.5,331.5 722.5,331.2 723.5,330.8 724.5,330.5 725.5,330.2 726.5,329.8 727.5,329.5 728.5,329.1 729.5,328.7 730.5,328.3 731.5,327.8 732.5,327.3 733.5,326.8 734.5,326.3 735.5,325.8 736.5,325.2 737.5,324.7 738.5,324.1 739.5,323.6 740.5,323.0 741.5,322.6 742.5,322.1 743.5,321.7 744.5,321.3 745.5,320.9 746.5,320.4 747.5,320.0 748.5,319.5 749.5,319.0 750.5,318.6 751.5,318.1 752.5,317.6 753.5,317.1 754.5,316.6 755.5,316.0 756.5,315.4 757.5,314.9 758.5,314.3 759.5,313.7 760.5,313.1 761.5,312.5 762.5,311.8 763.5,311.2 764.5,310.6 765.5,309.9 766.5,309.3 767.5,308.6 768.5,308.0 769.5,307.4 770.5,306.7 771.5,306.0 772.5,305.4 773.5,304.7 774.5,304.0 775.5,303.2 776.5,302.5 777.5,301.7 778.5,301.0 779.5,300.3 780.5,299.5 781.5,298.7 782.5,297.9 783.5,297.1 784.5,296.3 785.5,295.4 786.5,294.6 787.5,293.7 788.5,292.8 789.5,291.8 790.5,290.7 791.5,289.7 792.5,288.7 793.5,287.6 794.5,286.5 795.5,285.4 796.5,284.2 797.5,283.0 798.5,281.8 799.5,280.6 800.5,279.4 801.5,278.1 802.5,276.8 803.5,275.4 804.5,274.1 805.5,272.7 806.5,271.3 807.5,269.8 808.5,268.3 809.5,266.8 810.5,265.2 811.5,263.6 812.5,261.9 813.5,260.3 814.5,258.5 815.5,256.8 816.5,254.9 817.5,253.1 818.5,251.2 819.5,249.2 820.5,247.2 821.5,245.2 822.5,243.1 823.5,241.0 824.5,238.8 825.5,236.6 826.5,234.4 827.5,232.2 828.5,229.9 829.5,227.7 830.5,225.4 831.5,223.2 832.5,221.1 833.5,219.0 834.5,216.9 835.5,215.0 836.5,213.2 837.5,211.6 838.5,210.3 839.5,209.3 840.5,208.7 841.5,208.5 842.5,208.9 843.5,209.7 844.5,210.8 845.5,212.1 846.5,213.8 847.5,215.6 848.5,217.5 849.5,219.5 850.5,221.6 851.5,223.8 852.5,226.0 853.5,228.3 854.5,230.5 855.5,232.8 856.5,235.0 857.5,237.2 858.5,239.4 859.5,241.6 860.5,243.7 861.5,245.8" fill="none" stroke="#a03216" stroke-width="3.5" stroke-linecap="round" stroke-linejoin="round" stroke-dasharray="6.20 7.75" stroke-dashoffset="-1"/>
<line x1="194.0" y1="411.2" x2="253.4" y2="411.2" stroke="#000000" stroke-width="3.6" stroke-linecap="round"/>
<text transform="translate(262.3,418.5) scale(1.045,1)" class="t lg">Harman</text>
<line x1="408.3" y1="411.2" x2="468.7" y2="411.2" stroke="#0a70c0" stroke-width="3.6" stroke-linecap="round"/>
<text transform="translate(476.8,418.5) scale(1.045,1)" class="t lg">12 dB</text>
<line x1="622.4" y1="411.2" x2="683.5" y2="411.2" stroke="#ee1c25" stroke-width="3.6" stroke-linecap="round"/>
<text transform="translate(690.7,418.5) scale(1.045,1)" class="t lg">15 dB</text>
<line x1="194.0" y1="435.3" x2="253.4" y2="435.3" stroke="#70ad47" stroke-width="3.6" stroke-linecap="round"/>
<text transform="translate(262.3,442.6) scale(1.045,1)" class="t lg">18 dB</text>
<line x1="408.3" y1="435.3" x2="468.7" y2="435.3" stroke="#a04a1c" stroke-width="3.6" stroke-linecap="round"/>
<text transform="translate(476.8,442.6) scale(1.045,1)" class="t lg">21 dB</text>
<line x1="622.4" y1="435.3" x2="683.5" y2="435.3" stroke="#1271c2" stroke-width="3.6" stroke-linecap="round" stroke-dasharray="6.6 7.3"/>
<text transform="translate(690.7,442.6) scale(1.045,1)" class="t lg">12 dB</text>
<line x1="194.0" y1="458.7" x2="253.4" y2="458.7" stroke="#ee1c25" stroke-width="3.6" stroke-linecap="round" stroke-dasharray="6.6 7.3"/>
<text transform="translate(262.3,466.0) scale(1.045,1)" class="t lg">15 dB</text>
<line x1="408.3" y1="458.7" x2="468.7" y2="458.7" stroke="#4e8430" stroke-width="3.6" stroke-linecap="round" stroke-dasharray="6.6 7.3"/>
<text transform="translate(476.8,466.0) scale(1.045,1)" class="t lg">18 dB</text>
<line x1="622.4" y1="458.7" x2="683.5" y2="458.7" stroke="#a03216" stroke-width="3.6" stroke-linecap="round" stroke-dasharray="6.6 7.3"/>
<text transform="translate(690.7,466.0) scale(1.045,1)" class="t lg">21 dB</text>
<text x="115.5" y="150.6" class="t yl" text-anchor="end">30</text>
<text x="115.5" y="185.6" class="t yl" text-anchor="end">25</text>
<text x="115.5" y="218.9" class="t yl" text-anchor="end">20</text>
<text x="115.5" y="252.2" class="t yl" text-anchor="end">15</text>
<text x="115.5" y="286.6" class="t yl" text-anchor="end">10</text>
<text x="115.5" y="319.8" class="t yl" text-anchor="end">5</text>
<text x="115.5" y="353.7" class="t yl" text-anchor="end">0</text>
<text x="115.5" y="387.5" class="t yl" text-anchor="end">-5</text>
<text x="115.5" y="421.8" class="t yl" text-anchor="end">-10</text>
<text x="115.5" y="455.6" class="t yl" text-anchor="end">-15</text>
<text x="115.5" y="489.2" class="t yl" text-anchor="end">-20</text>
<text x="133.2" y="515" class="t xl" text-anchor="middle">10</text>
<text x="354.0" y="515" class="t xl" text-anchor="middle">100</text>
<text x="574.8" y="515" class="t xl" text-anchor="middle">1000</text>
<text x="795.6" y="515" class="t xl" text-anchor="middle">10000</text>
<text x="497.3" y="545" class="t ft" text-anchor="middle">Frequency (Hz)</text>
<text transform="translate(77.4,314.85) rotate(-90) scale(1.151,1)" class="t yt" text-anchor="middle">Normalized response, dB</text>
</svg>

<div class="h" style="left:-8.4px;top:582.0px;">Preferred curves. The Knowles curve is in blue.</div>
</body></html>
